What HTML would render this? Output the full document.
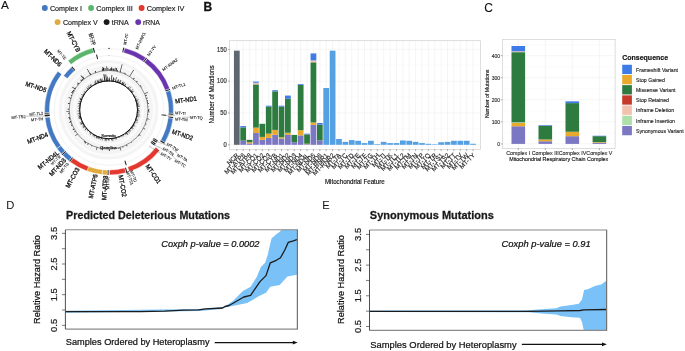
<!DOCTYPE html>
<html><head><meta charset="utf-8"><style>
html,body{margin:0;padding:0;background:#fff;width:685px;height:351px;overflow:hidden}
svg{display:block;will-change:transform}
text{font-family:"Liberation Sans",sans-serif}
</style></head><body>
<svg width="685" height="351" viewBox="0 0 685 351">
<rect width="685" height="351" fill="#fff"/>
<g>
<circle cx="109.05" cy="110.45" r="62" fill="none" stroke="#e4e4e4" stroke-width="0.5"/>
<circle cx="109.05" cy="110.45" r="54.9" fill="none" stroke="#e4e4e4" stroke-width="0.5"/>
<circle cx="108.6" cy="109.8" r="34.2" fill="none" stroke="#f3f3f3" stroke-width="10.6"/>
<circle cx="108.6" cy="109.8" r="44.6" fill="none" stroke="#f4f4f4" stroke-width="10.4"/>
<circle cx="108.6" cy="109.8" r="34.4" fill="none" stroke="#fbfbfb" stroke-width="2.6"/>
<circle cx="108.6" cy="109.8" r="45.6" fill="none" stroke="#fbfbfb" stroke-width="2.4"/>
<path d="M108.68 80.32A29.48 29.48 0 0 1 108.99 80.32L108.97 81.4A28.4 28.4 0 0 0 108.67 81.4ZM109.16 79.04A30.77 30.77 0 0 1 109.49 79.05L109.42 81.41A28.4 28.4 0 0 0 109.12 81.4ZM109.63 79.54A30.27 30.27 0 0 1 109.95 79.56L109.86 81.43A28.4 28.4 0 0 0 109.57 81.42ZM111.49 80.1A29.84 29.84 0 0 1 111.8 80.14L111.64 81.56A28.4 28.4 0 0 0 111.35 81.53ZM112.52 79.39A30.66 30.66 0 0 1 112.84 79.43L112.53 81.67A28.4 28.4 0 0 0 112.23 81.63ZM112.97 79.67A30.45 30.45 0 0 1 113.28 79.72L112.97 81.74A28.4 28.4 0 0 0 112.68 81.69ZM113.74 77.87A32.35 32.35 0 0 1 114.08 77.92L113.41 81.81A28.4 28.4 0 0 0 113.12 81.76ZM114.14 78.54A31.74 31.74 0 0 1 114.47 78.6L113.85 81.89A28.4 28.4 0 0 0 113.56 81.84ZM114.64 81A29.43 29.43 0 0 1 114.94 81.07L114.72 82.07A28.4 28.4 0 0 0 114.43 82.01ZM115.85 79.95A30.71 30.71 0 0 1 116.16 80.03L115.59 82.27A28.4 28.4 0 0 0 115.3 82.2ZM116.22 80.45A30.32 30.32 0 0 1 116.52 80.53L116.02 82.39A28.4 28.4 0 0 0 115.73 82.31ZM117.3 80.15A30.9 30.9 0 0 1 117.61 80.24L116.88 82.63A28.4 28.4 0 0 0 116.59 82.55ZM117.33 81.68A29.45 29.45 0 0 1 117.63 81.77L117.31 82.77A28.4 28.4 0 0 0 117.02 82.68ZM117.93 81.35A29.94 29.94 0 0 1 118.23 81.44L117.73 82.91A28.4 28.4 0 0 0 117.45 82.81ZM118.86 80.09A31.43 31.43 0 0 1 119.17 80.2L118.15 83.05A28.4 28.4 0 0 0 117.87 82.96ZM118.57 82.33A29.22 29.22 0 0 1 118.86 82.44L118.57 83.21A28.4 28.4 0 0 0 118.29 83.1ZM119.36 81.55A30.23 30.23 0 0 1 119.65 81.66L118.99 83.37A28.4 28.4 0 0 0 118.71 83.26ZM120.13 80.89A31.12 31.12 0 0 1 120.44 81.01L119.4 83.53A28.4 28.4 0 0 0 119.12 83.42ZM121.06 79.93A32.37 32.37 0 0 1 121.38 80.06L119.81 83.71A28.4 28.4 0 0 0 119.54 83.59ZM120.51 82.47A29.81 29.81 0 0 1 120.8 82.6L120.22 83.89A28.4 28.4 0 0 0 119.95 83.77ZM122.44 81.74A31.29 31.29 0 0 1 122.73 81.88L121.43 84.46A28.4 28.4 0 0 0 121.16 84.33ZM123.12 81.48A31.83 31.83 0 0 1 123.42 81.63L121.82 84.67A28.4 28.4 0 0 0 121.56 84.53ZM123.16 82.47A30.97 30.97 0 0 1 123.45 82.62L122.22 84.88A28.4 28.4 0 0 0 121.95 84.74ZM123.34 83.15A30.46 30.46 0 0 1 123.62 83.3L122.61 85.09A28.4 28.4 0 0 0 122.35 84.95ZM124.35 82.35A31.65 31.65 0 0 1 124.64 82.51L122.99 85.32A28.4 28.4 0 0 0 122.74 85.17ZM123.95 84A30.03 30.03 0 0 1 124.22 84.16L123.38 85.55A28.4 28.4 0 0 0 123.12 85.39ZM125.14 83.88A30.75 30.75 0 0 1 125.42 84.05L124.13 86.02A28.4 28.4 0 0 0 123.88 85.86ZM126 83.46A31.56 31.56 0 0 1 126.27 83.65L124.5 86.27A28.4 28.4 0 0 0 124.25 86.1ZM125.35 85.28A29.69 29.69 0 0 1 125.61 85.46L124.87 86.52A28.4 28.4 0 0 0 124.62 86.35ZM127.24 86.66A29.71 29.71 0 0 1 127.48 86.86L126.65 87.87A28.4 28.4 0 0 0 126.41 87.68ZM128.36 86.79A30.33 30.33 0 0 1 128.6 87L127.33 88.45A28.4 28.4 0 0 0 127.1 88.25ZM129.53 86.19A31.55 31.55 0 0 1 129.77 86.41L127.66 88.74A28.4 28.4 0 0 0 127.44 88.55ZM128.4 88.16A29.33 29.33 0 0 1 128.62 88.37L127.99 89.05A28.4 28.4 0 0 0 127.77 88.84ZM128.92 88.28A29.6 29.6 0 0 1 129.14 88.49L128.31 89.35A28.4 28.4 0 0 0 128.1 89.15ZM131.1 86.7A32.25 32.25 0 0 1 131.34 86.94L128.63 89.67A28.4 28.4 0 0 0 128.42 89.46ZM129.62 89.54A29.19 29.19 0 0 1 129.83 89.76L129.25 90.3A28.4 28.4 0 0 0 129.05 90.09ZM130.89 88.98A30.5 30.5 0 0 1 131.1 89.22L129.56 90.63A28.4 28.4 0 0 0 129.35 90.41ZM130.88 90.26A29.63 29.63 0 0 1 131.08 90.49L130.15 91.3A28.4 28.4 0 0 0 129.95 91.07ZM133.16 88.94A32.22 32.22 0 0 1 133.38 89.19L130.44 91.64A28.4 28.4 0 0 0 130.24 91.41ZM131.65 90.84A29.85 29.85 0 0 1 131.84 91.08L130.72 91.99A28.4 28.4 0 0 0 130.53 91.75ZM132.36 90.87A30.38 30.38 0 0 1 132.55 91.12L130.99 92.33A28.4 28.4 0 0 0 130.81 92.1ZM133.3 90.74A31.2 31.2 0 0 1 133.5 91L131.27 92.69A28.4 28.4 0 0 0 131.09 92.45ZM133.52 91.19A31.1 31.1 0 0 1 133.72 91.45L131.53 93.05A28.4 28.4 0 0 0 131.36 92.81ZM132.5 92.53A29.48 29.48 0 0 1 132.68 92.78L131.79 93.41A28.4 28.4 0 0 0 131.62 93.17ZM133.41 94.14A29.34 29.34 0 0 1 133.58 94.4L132.78 94.9A28.4 28.4 0 0 0 132.62 94.65ZM135.07 95.34A30.17 30.17 0 0 1 135.22 95.62L133.66 96.45A28.4 28.4 0 0 0 133.52 96.18ZM134.37 96.24A29.12 29.12 0 0 1 134.51 96.51L133.87 96.84A28.4 28.4 0 0 0 133.73 96.58ZM134.83 96.52A29.41 29.41 0 0 1 134.97 96.79L134.07 97.24A28.4 28.4 0 0 0 133.94 96.97ZM136.48 96.23A31.01 31.01 0 0 1 136.62 96.52L134.27 97.64A28.4 28.4 0 0 0 134.14 97.37ZM135.5 97.23A29.7 29.7 0 0 1 135.63 97.51L134.45 98.05A28.4 28.4 0 0 0 134.33 97.78ZM135.56 98.22A29.35 29.35 0 0 1 135.68 98.5L134.81 98.86A28.4 28.4 0 0 0 134.69 98.59ZM137.21 98.04A30.93 30.93 0 0 1 137.33 98.34L134.98 99.28A28.4 28.4 0 0 0 134.87 99ZM136.59 99.31A29.89 29.89 0 0 1 136.69 99.6L135.3 100.11A28.4 28.4 0 0 0 135.19 99.83ZM138.35 99.18A31.59 31.59 0 0 1 138.46 99.49L135.44 100.53A28.4 28.4 0 0 0 135.35 100.25ZM138.44 99.67A31.51 31.51 0 0 1 138.55 99.98L135.59 100.95A28.4 28.4 0 0 0 135.49 100.67ZM137.58 100.47A30.45 30.45 0 0 1 137.68 100.77L135.72 101.38A28.4 28.4 0 0 0 135.63 101.09ZM136.73 101.23A29.41 29.41 0 0 1 136.82 101.52L135.85 101.81A28.4 28.4 0 0 0 135.77 101.52ZM138.12 101.31A30.72 30.72 0 0 1 138.21 101.62L135.97 102.23A28.4 28.4 0 0 0 135.89 101.95ZM138.28 101.77A30.74 30.74 0 0 1 138.36 102.08L136.09 102.67A28.4 28.4 0 0 0 136.01 102.38ZM139.29 102.52A31.54 31.54 0 0 1 139.36 102.84L136.3 103.53A28.4 28.4 0 0 0 136.23 103.24ZM138.72 103.15A30.84 30.84 0 0 1 138.79 103.47L136.39 103.97A28.4 28.4 0 0 0 136.33 103.68ZM138.58 103.67A30.6 30.6 0 0 1 138.64 103.99L136.48 104.41A28.4 28.4 0 0 0 136.42 104.11ZM137.94 104.28A29.85 29.85 0 0 1 138 104.59L136.56 104.84A28.4 28.4 0 0 0 136.51 104.55ZM139.41 104.51A31.26 31.26 0 0 1 139.47 104.83L136.64 105.28A28.4 28.4 0 0 0 136.59 104.99ZM137.39 105.32A29.14 29.14 0 0 1 137.44 105.62L136.71 105.72A28.4 28.4 0 0 0 136.66 105.43ZM139.72 105.45A31.43 31.43 0 0 1 139.77 105.78L136.77 106.17A28.4 28.4 0 0 0 136.73 105.87ZM139.71 105.95A31.35 31.35 0 0 1 139.75 106.28L136.82 106.61A28.4 28.4 0 0 0 136.79 106.31ZM139.84 106.43A31.42 31.42 0 0 1 139.87 106.76L136.87 107.05A28.4 28.4 0 0 0 136.84 106.76ZM138.74 107.98A30.2 30.2 0 0 1 138.76 108.3L136.96 108.39A28.4 28.4 0 0 0 136.95 108.09ZM139.54 108.42A30.97 30.97 0 0 1 139.56 108.75L136.98 108.83A28.4 28.4 0 0 0 136.97 108.54ZM138.88 108.93A30.3 30.3 0 0 1 138.89 109.24L137 109.28A28.4 28.4 0 0 0 136.99 108.98ZM139.84 109.88A31.24 31.24 0 0 1 139.84 110.21L137 110.17A28.4 28.4 0 0 0 137 109.87ZM139.23 110.36A30.64 30.64 0 0 1 139.23 110.68L136.99 110.62A28.4 28.4 0 0 0 137 110.32ZM137.88 111.26A29.32 29.32 0 0 1 137.87 111.56L136.95 111.51A28.4 28.4 0 0 0 136.96 111.21ZM140.02 111.86A31.49 31.49 0 0 1 139.99 112.19L136.92 111.95A28.4 28.4 0 0 0 136.94 111.66ZM138.01 112.19A29.51 29.51 0 0 1 137.98 112.5L136.88 112.4A28.4 28.4 0 0 0 136.91 112.1ZM139 112.75A30.55 30.55 0 0 1 138.97 113.07L136.84 112.84A28.4 28.4 0 0 0 136.87 112.55ZM139.56 113.79A31.22 31.22 0 0 1 139.52 114.12L136.73 113.73A28.4 28.4 0 0 0 136.77 113.43ZM139.72 114.81A31.52 31.52 0 0 1 139.67 115.14L136.59 114.61A28.4 28.4 0 0 0 136.64 114.32ZM137.52 114.92A29.37 29.37 0 0 1 137.46 115.23L136.51 115.05A28.4 28.4 0 0 0 136.56 114.76ZM140.18 115.91A32.16 32.16 0 0 1 140.11 116.24L136.42 115.49A28.4 28.4 0 0 0 136.48 115.19ZM138.24 116.02A30.29 30.29 0 0 1 138.17 116.33L136.33 115.92A28.4 28.4 0 0 0 136.39 115.63ZM139.16 116.72A31.33 31.33 0 0 1 139.09 117.04L136.23 116.36A28.4 28.4 0 0 0 136.3 116.07ZM138.81 117.14A31.09 31.09 0 0 1 138.74 117.45L136.13 116.79A28.4 28.4 0 0 0 136.2 116.5ZM136.76 117.58A29.22 29.22 0 0 1 136.68 117.88L135.89 117.65A28.4 28.4 0 0 0 135.97 117.37ZM137.46 118.27A30.07 30.07 0 0 1 137.37 118.57L135.77 118.08A28.4 28.4 0 0 0 135.85 117.79ZM136.83 118.57A29.56 29.56 0 0 1 136.74 118.86L135.63 118.51A28.4 28.4 0 0 0 135.72 118.22ZM138.29 119.53A31.24 31.24 0 0 1 138.18 119.84L135.49 118.93A28.4 28.4 0 0 0 135.59 118.65ZM136.65 119.48A29.67 29.67 0 0 1 136.54 119.78L135.35 119.35A28.4 28.4 0 0 0 135.44 119.07ZM137.95 120.45A31.22 31.22 0 0 1 137.83 120.76L135.19 119.77A28.4 28.4 0 0 0 135.3 119.49ZM137.82 120.93A31.27 31.27 0 0 1 137.71 121.24L135.03 120.19A28.4 28.4 0 0 0 135.14 119.91ZM136.37 120.88A29.9 29.9 0 0 1 136.25 121.17L134.87 120.6A28.4 28.4 0 0 0 134.98 120.32ZM137.88 122.56A31.94 31.94 0 0 1 137.74 122.87L134.51 121.42A28.4 28.4 0 0 0 134.63 121.15ZM136.21 122.88A30.55 30.55 0 0 1 136.07 123.17L134.14 122.23A28.4 28.4 0 0 0 134.27 121.96ZM134.88 122.76A29.3 29.3 0 0 1 134.74 123.04L133.94 122.63A28.4 28.4 0 0 0 134.07 122.36ZM135.27 123.48A29.97 29.97 0 0 1 135.13 123.76L133.73 123.02A28.4 28.4 0 0 0 133.87 122.76ZM134.08 123.89A29.11 29.11 0 0 1 133.93 124.16L133.31 123.81A28.4 28.4 0 0 0 133.45 123.55ZM135.24 125.09A30.72 30.72 0 0 1 135.08 125.37L133.08 124.19A28.4 28.4 0 0 0 133.23 123.94ZM134.38 125.14A29.99 29.99 0 0 1 134.21 125.4L132.85 124.58A28.4 28.4 0 0 0 133.01 124.32ZM135.2 126.2A31.25 31.25 0 0 1 135.03 126.48L132.62 124.95A28.4 28.4 0 0 0 132.78 124.7ZM134.02 126.03A30.16 30.16 0 0 1 133.85 126.29L132.38 125.33A28.4 28.4 0 0 0 132.54 125.08ZM133.49 126.25A29.84 29.84 0 0 1 133.32 126.51L132.13 125.7A28.4 28.4 0 0 0 132.3 125.45ZM133.08 126.53A29.66 29.66 0 0 1 132.91 126.79L131.88 126.07A28.4 28.4 0 0 0 132.05 125.82ZM132.88 126.96A29.73 29.73 0 0 1 132.7 127.21L131.62 126.43A28.4 28.4 0 0 0 131.79 126.19ZM133.19 127.77A30.46 30.46 0 0 1 133 128.02L131.36 126.79A28.4 28.4 0 0 0 131.53 126.55ZM133.64 128.7A31.37 31.37 0 0 1 133.44 128.96L131.09 127.15A28.4 28.4 0 0 0 131.27 126.91ZM132.25 128.24A29.99 29.99 0 0 1 132.05 128.49L130.81 127.5A28.4 28.4 0 0 0 130.99 127.27ZM132.72 129.23A30.97 30.97 0 0 1 132.52 129.48L130.53 127.85A28.4 28.4 0 0 0 130.72 127.61ZM131.3 130.56A30.76 30.76 0 0 1 131.08 130.8L129.35 129.19A28.4 28.4 0 0 0 129.56 128.97ZM130.32 130.96A30.32 30.32 0 0 1 130.1 131.18L128.73 129.83A28.4 28.4 0 0 0 128.94 129.62ZM130.56 131.87A31.14 31.14 0 0 1 130.33 132.1L128.42 130.14A28.4 28.4 0 0 0 128.63 129.93ZM128.74 131.36A29.5 29.5 0 0 1 128.51 131.57L127.77 130.76A28.4 28.4 0 0 0 127.99 130.55ZM129.78 133.2A31.56 31.56 0 0 1 129.53 133.42L127.44 131.05A28.4 28.4 0 0 0 127.66 130.86ZM127.92 132.55A29.85 29.85 0 0 1 127.69 132.75L126.76 131.64A28.4 28.4 0 0 0 126.99 131.44ZM128.31 134.53A31.62 31.62 0 0 1 128.05 134.73L126.07 132.19A28.4 28.4 0 0 0 126.3 132.01ZM127.74 134.61A31.33 31.33 0 0 1 127.48 134.81L125.71 132.47A28.4 28.4 0 0 0 125.95 132.29ZM126.67 134A30.2 30.2 0 0 1 126.41 134.18L125.35 132.73A28.4 28.4 0 0 0 125.59 132.56ZM126.23 135.03A30.78 30.78 0 0 1 125.97 135.21L124.62 133.25A28.4 28.4 0 0 0 124.87 133.08ZM124.16 134.47A29.16 29.16 0 0 1 123.9 134.63L123.5 133.98A28.4 28.4 0 0 0 123.75 133.82ZM123.98 135.05A29.57 29.57 0 0 1 123.72 135.21L123.12 134.21A28.4 28.4 0 0 0 123.38 134.05ZM124.26 136.43A30.89 30.89 0 0 1 123.98 136.59L122.74 134.43A28.4 28.4 0 0 0 122.99 134.28ZM122.99 136.15A30.02 30.02 0 0 1 122.72 136.3L121.95 134.86A28.4 28.4 0 0 0 122.22 134.72ZM122.34 136.94A30.42 30.42 0 0 1 122.05 137.08L121.16 135.27A28.4 28.4 0 0 0 121.43 135.14ZM121.4 137.19A30.23 30.23 0 0 1 121.11 137.32L120.35 135.65A28.4 28.4 0 0 0 120.62 135.53ZM119.88 137.23A29.66 29.66 0 0 1 119.59 137.35L119.12 136.18A28.4 28.4 0 0 0 119.4 136.07ZM119.56 137.69A29.97 29.97 0 0 1 119.27 137.8L118.71 136.34A28.4 28.4 0 0 0 118.99 136.23ZM118.84 137.1A29.16 29.16 0 0 1 118.55 137.21L118.29 136.5A28.4 28.4 0 0 0 118.57 136.39ZM118.65 137.94A29.88 29.88 0 0 1 118.35 138.05L117.87 136.64A28.4 28.4 0 0 0 118.15 136.55ZM117.13 137.8A29.27 29.27 0 0 1 116.84 137.88L116.59 137.05A28.4 28.4 0 0 0 116.88 136.97ZM117.08 139.28A30.67 30.67 0 0 1 116.77 139.36L116.17 137.17A28.4 28.4 0 0 0 116.45 137.09ZM116.39 138.56A29.8 29.8 0 0 1 116.09 138.64L115.73 137.29A28.4 28.4 0 0 0 116.02 137.21ZM116.29 140.06A31.23 31.23 0 0 1 115.97 140.14L115.3 137.4A28.4 28.4 0 0 0 115.59 137.33ZM115.06 139.05A29.96 29.96 0 0 1 114.75 139.12L114.43 137.59A28.4 28.4 0 0 0 114.72 137.53ZM114.55 138.92A29.72 29.72 0 0 1 114.25 138.98L113.99 137.68A28.4 28.4 0 0 0 114.29 137.62ZM113.61 138.97A29.6 29.6 0 0 1 113.31 139.02L113.12 137.84A28.4 28.4 0 0 0 113.41 137.79ZM113.36 140.38A30.95 30.95 0 0 1 113.04 140.43L112.68 137.91A28.4 28.4 0 0 0 112.97 137.86ZM112.72 139.33A29.82 29.82 0 0 1 112.41 139.37L112.23 137.97A28.4 28.4 0 0 0 112.53 137.93ZM112.47 141.09A31.53 31.53 0 0 1 112.14 141.13L111.79 138.02A28.4 28.4 0 0 0 112.09 137.99ZM111.91 140.56A30.94 30.94 0 0 1 111.59 140.6L111.35 138.07A28.4 28.4 0 0 0 111.64 138.04ZM111.37 139.91A30.24 30.24 0 0 1 111.05 139.94L110.9 138.11A28.4 28.4 0 0 0 111.2 138.08ZM110.83 139.08A29.36 29.36 0 0 1 110.52 139.1L110.46 138.14A28.4 28.4 0 0 0 110.75 138.12ZM109.96 140.38A30.61 30.61 0 0 1 109.64 140.39L109.57 138.18A28.4 28.4 0 0 0 109.86 138.17ZM109.01 140.77A30.98 30.98 0 0 1 108.68 140.78L108.67 138.2A28.4 28.4 0 0 0 108.97 138.2ZM108.52 140.16A30.36 30.36 0 0 1 108.2 140.15L108.23 138.2A28.4 28.4 0 0 0 108.53 138.2ZM107.59 139.46A29.68 29.68 0 0 1 107.28 139.45L107.34 138.17A28.4 28.4 0 0 0 107.63 138.18ZM107.13 139.4A29.64 29.64 0 0 1 106.82 139.38L106.89 138.15A28.4 28.4 0 0 0 107.19 138.16ZM106.54 141.18A31.45 31.45 0 0 1 106.21 141.16L106.45 138.12A28.4 28.4 0 0 0 106.74 138.14ZM106.17 139.65A29.95 29.95 0 0 1 105.86 139.62L106 138.08A28.4 28.4 0 0 0 106.3 138.11ZM105.56 141.11A31.46 31.46 0 0 1 105.23 141.08L105.56 138.04A28.4 28.4 0 0 0 105.85 138.07ZM105.07 141A31.4 31.4 0 0 1 104.75 140.96L105.11 137.99A28.4 28.4 0 0 0 105.41 138.02ZM104.8 139.28A29.72 29.72 0 0 1 104.49 139.24L104.67 137.93A28.4 28.4 0 0 0 104.97 137.97ZM102.66 140.53A31.3 31.3 0 0 1 102.33 140.46L102.91 137.62A28.4 28.4 0 0 0 103.21 137.68ZM102 138.95A29.89 29.89 0 0 1 101.7 138.88L102.04 137.43A28.4 28.4 0 0 0 102.33 137.5ZM101.45 139.26A30.31 30.31 0 0 1 101.14 139.18L101.61 137.33A28.4 28.4 0 0 0 101.9 137.4ZM100.78 139.92A31.12 31.12 0 0 1 100.47 139.84L101.18 137.21A28.4 28.4 0 0 0 101.47 137.29ZM100.79 138.05A29.3 29.3 0 0 1 100.5 137.96L100.75 137.09A28.4 28.4 0 0 0 101.03 137.17ZM99.63 138.7A30.26 30.26 0 0 1 99.32 138.61L99.89 136.83A28.4 28.4 0 0 0 100.18 136.92ZM98.96 139.21A30.95 30.95 0 0 1 98.65 139.11L99.47 136.69A28.4 28.4 0 0 0 99.75 136.79ZM98.74 138.36A30.21 30.21 0 0 1 98.44 138.25L99.05 136.55A28.4 28.4 0 0 0 99.33 136.64ZM98.07 138.82A30.87 30.87 0 0 1 97.76 138.7L98.63 136.39A28.4 28.4 0 0 0 98.91 136.5ZM97.97 137.72A29.87 29.87 0 0 1 97.68 137.6L98.21 136.23A28.4 28.4 0 0 0 98.49 136.34ZM97.13 138.55A30.95 30.95 0 0 1 96.83 138.43L97.8 136.07A28.4 28.4 0 0 0 98.08 136.18ZM96.69 138.34A30.92 30.92 0 0 1 96.39 138.21L97.39 135.89A28.4 28.4 0 0 0 97.66 136.01ZM96.14 138.38A31.17 31.17 0 0 1 95.85 138.25L96.98 135.71A28.4 28.4 0 0 0 97.25 135.83ZM96 137.51A30.44 30.44 0 0 1 95.71 137.37L96.58 135.53A28.4 28.4 0 0 0 96.85 135.65ZM95.6 136.16A29.4 29.4 0 0 1 95.32 136.03L95.77 135.14A28.4 28.4 0 0 0 96.04 135.27ZM94.47 137.35A30.96 30.96 0 0 1 94.19 137.2L95.38 134.93A28.4 28.4 0 0 0 95.64 135.07ZM94.39 136.46A30.21 30.21 0 0 1 94.12 136.31L94.98 134.72A28.4 28.4 0 0 0 95.25 134.86ZM93.89 136.39A30.39 30.39 0 0 1 93.61 136.24L94.59 134.51A28.4 28.4 0 0 0 94.85 134.65ZM92.94 136.13A30.63 30.63 0 0 1 92.66 135.96L93.82 134.05A28.4 28.4 0 0 0 94.08 134.21ZM92.91 135.26A29.91 29.91 0 0 1 92.64 135.09L93.45 133.82A28.4 28.4 0 0 0 93.7 133.98ZM92.55 134.1A29.12 29.12 0 0 1 92.29 133.93L92.7 133.33A28.4 28.4 0 0 0 92.95 133.5ZM92.15 133.87A29.15 29.15 0 0 1 91.9 133.7L92.33 133.08A28.4 28.4 0 0 0 92.58 133.25ZM90.02 135.24A31.5 31.5 0 0 1 89.75 135.04L91.61 132.56A28.4 28.4 0 0 0 91.85 132.73ZM90.85 133.31A29.46 29.46 0 0 1 90.61 133.12L91.25 132.29A28.4 28.4 0 0 0 91.49 132.47ZM89.9 133.77A30.4 30.4 0 0 1 89.65 133.58L90.9 132.01A28.4 28.4 0 0 0 91.13 132.19ZM89.67 133.3A30.17 30.17 0 0 1 89.43 133.1L90.55 131.73A28.4 28.4 0 0 0 90.79 131.92ZM89.63 131.9A29.13 29.13 0 0 1 89.4 131.7L89.87 131.15A28.4 28.4 0 0 0 90.1 131.35ZM89.2 131.69A29.25 29.25 0 0 1 88.97 131.48L89.54 130.86A28.4 28.4 0 0 0 89.76 131.05ZM88.58 131A29.16 29.16 0 0 1 88.36 130.79L88.89 130.25A28.4 28.4 0 0 0 89.1 130.45ZM87.36 131.6A30.43 30.43 0 0 1 87.14 131.38L88.57 129.93A28.4 28.4 0 0 0 88.78 130.14ZM87.89 130.4A29.21 29.21 0 0 1 87.67 130.19L88.26 129.62A28.4 28.4 0 0 0 88.47 129.83ZM87.22 130.41A29.69 29.69 0 0 1 87.01 130.18L87.95 129.3A28.4 28.4 0 0 0 88.15 129.51ZM84.92 130.57A31.5 31.5 0 0 1 84.7 130.32L87.05 128.3A28.4 28.4 0 0 0 87.25 128.53ZM85.05 129.8A30.9 30.9 0 0 1 84.85 129.56L86.76 127.96A28.4 28.4 0 0 0 86.96 128.19ZM85.71 128.64A29.65 29.65 0 0 1 85.51 128.4L86.48 127.61A28.4 28.4 0 0 0 86.67 127.85ZM83.14 128.2A31.41 31.41 0 0 1 82.95 127.93L85.41 126.19A28.4 28.4 0 0 0 85.58 126.43ZM83.27 127.5A30.9 30.9 0 0 1 83.09 127.23L85.15 125.82A28.4 28.4 0 0 0 85.32 126.07ZM82.79 127.24A31.15 31.15 0 0 1 82.61 126.97L84.9 125.45A28.4 28.4 0 0 0 85.07 125.7ZM82.46 126.29A30.9 30.9 0 0 1 82.29 126.02L84.42 124.7A28.4 28.4 0 0 0 84.58 124.95ZM83.17 125.29A29.77 29.77 0 0 1 83.01 125.02L84.19 124.32A28.4 28.4 0 0 0 84.35 124.58ZM83.39 124.62A29.24 29.24 0 0 1 83.24 124.35L83.97 123.94A28.4 28.4 0 0 0 84.12 124.19ZM83.07 124.28A29.35 29.35 0 0 1 82.92 124.01L83.75 123.55A28.4 28.4 0 0 0 83.89 123.81ZM80.63 125.08A31.88 31.88 0 0 1 80.47 124.79L83.54 123.15A28.4 28.4 0 0 0 83.68 123.42ZM81.19 124.22A30.97 30.97 0 0 1 81.04 123.93L83.33 122.76A28.4 28.4 0 0 0 83.47 123.02ZM80.67 123.94A31.31 31.31 0 0 1 80.52 123.65L83.13 122.36A28.4 28.4 0 0 0 83.26 122.63ZM80.54 123.46A31.21 31.21 0 0 1 80.4 123.16L82.93 121.96A28.4 28.4 0 0 0 83.06 122.23ZM81.94 122.26A29.43 29.43 0 0 1 81.81 121.98L82.75 121.55A28.4 28.4 0 0 0 82.87 121.82ZM79.77 122.73A31.6 31.6 0 0 1 79.64 122.42L82.57 121.15A28.4 28.4 0 0 0 82.69 121.42ZM81.59 121.4A29.4 29.4 0 0 1 81.47 121.12L82.39 120.74A28.4 28.4 0 0 0 82.51 121.01ZM81.62 120.89A29.18 29.18 0 0 1 81.5 120.61L82.22 120.32A28.4 28.4 0 0 0 82.33 120.6ZM81.26 120.05A29.2 29.2 0 0 1 81.15 119.76L81.9 119.49A28.4 28.4 0 0 0 82.01 119.77ZM81.18 119.59A29.11 29.11 0 0 1 81.08 119.3L81.76 119.07A28.4 28.4 0 0 0 81.85 119.35ZM80.35 119.39A29.83 29.83 0 0 1 80.25 119.09L81.61 118.65A28.4 28.4 0 0 0 81.71 118.93ZM80.59 118.82A29.43 29.43 0 0 1 80.49 118.53L81.48 118.22A28.4 28.4 0 0 0 81.57 118.51ZM78.81 118.88A31.14 31.14 0 0 1 78.72 118.57L81.35 117.79A28.4 28.4 0 0 0 81.43 118.08ZM79.56 118.16A30.22 30.22 0 0 1 79.47 117.85L81.23 117.37A28.4 28.4 0 0 0 81.31 117.65ZM78.33 118A31.36 31.36 0 0 1 78.24 117.68L81.11 116.93A28.4 28.4 0 0 0 81.19 117.22ZM79.01 117.31A30.53 30.53 0 0 1 78.93 117L81 116.5A28.4 28.4 0 0 0 81.07 116.79ZM78.85 116.86A30.58 30.58 0 0 1 78.78 116.55L80.9 116.07A28.4 28.4 0 0 0 80.97 116.36ZM78.67 116.41A30.65 30.65 0 0 1 78.6 116.09L80.81 115.63A28.4 28.4 0 0 0 80.87 115.92ZM79.99 115.65A29.2 29.2 0 0 1 79.93 115.35L80.72 115.19A28.4 28.4 0 0 0 80.78 115.49ZM77.83 115.59A31.31 31.31 0 0 1 77.77 115.26L80.64 114.76A28.4 28.4 0 0 0 80.69 115.05ZM79.31 114.83A29.71 29.71 0 0 1 79.26 114.53L80.56 114.32A28.4 28.4 0 0 0 80.61 114.61ZM79.72 114.3A29.23 29.23 0 0 1 79.67 113.99L80.49 113.88A28.4 28.4 0 0 0 80.54 114.17ZM77.4 114.16A31.5 31.5 0 0 1 77.35 113.83L80.43 113.43A28.4 28.4 0 0 0 80.47 113.73ZM78.52 113.52A30.31 30.31 0 0 1 78.48 113.2L80.38 112.99A28.4 28.4 0 0 0 80.41 113.29ZM78.79 113.01A29.98 29.98 0 0 1 78.76 112.7L80.33 112.55A28.4 28.4 0 0 0 80.36 112.84ZM78.86 111.59A29.79 29.79 0 0 1 78.85 111.28L80.24 111.21A28.4 28.4 0 0 0 80.25 111.51ZM77.4 111.19A31.23 31.23 0 0 1 77.39 110.86L80.22 110.77A28.4 28.4 0 0 0 80.23 111.06ZM78.96 110.65A29.65 29.65 0 0 1 78.96 110.34L80.2 110.32A28.4 28.4 0 0 0 80.21 110.62ZM79.25 109.72A29.35 29.35 0 0 1 79.26 109.42L80.2 109.43A28.4 28.4 0 0 0 80.2 109.73ZM78.6 108.78A30.02 30.02 0 0 1 78.61 108.46L80.23 108.54A28.4 28.4 0 0 0 80.22 108.83ZM78 108.28A30.64 30.64 0 0 1 78.02 107.96L80.25 108.09A28.4 28.4 0 0 0 80.24 108.39ZM79.12 107.87A29.54 29.54 0 0 1 79.14 107.56L80.28 107.65A28.4 28.4 0 0 0 80.26 107.94ZM79.26 107.41A29.44 29.44 0 0 1 79.28 107.11L80.32 107.2A28.4 28.4 0 0 0 80.29 107.5ZM77.33 106.26A31.47 31.47 0 0 1 77.37 105.94L80.41 106.31A28.4 28.4 0 0 0 80.38 106.61ZM79.04 105.99A29.81 29.81 0 0 1 79.08 105.68L80.47 105.87A28.4 28.4 0 0 0 80.43 106.17ZM77.86 105.34A31.06 31.06 0 0 1 77.91 105.02L80.54 105.43A28.4 28.4 0 0 0 80.49 105.72ZM79.8 105.16A29.17 29.17 0 0 1 79.86 104.86L80.61 104.99A28.4 28.4 0 0 0 80.56 105.28ZM79.55 104.65A29.5 29.5 0 0 1 79.6 104.35L80.69 104.55A28.4 28.4 0 0 0 80.64 104.84ZM77.76 103.83A31.41 31.41 0 0 1 77.82 103.51L80.78 104.11A28.4 28.4 0 0 0 80.72 104.41ZM78.32 103.45A30.94 30.94 0 0 1 78.39 103.13L80.87 103.68A28.4 28.4 0 0 0 80.81 103.97ZM78.86 103.07A30.49 30.49 0 0 1 78.93 102.76L80.97 103.24A28.4 28.4 0 0 0 80.9 103.53ZM79.72 102.79A29.72 29.72 0 0 1 79.8 102.48L81.07 102.81A28.4 28.4 0 0 0 81 103.1ZM78.42 101.46A31.31 31.31 0 0 1 78.51 101.14L81.31 101.95A28.4 28.4 0 0 0 81.23 102.23ZM78.82 101.06A31.03 31.03 0 0 1 78.92 100.75L81.43 101.52A28.4 28.4 0 0 0 81.35 101.81ZM80.8 101.17A29.11 29.11 0 0 1 80.89 100.88L81.57 101.09A28.4 28.4 0 0 0 81.48 101.38ZM79.87 99.88A30.4 30.4 0 0 1 79.97 99.58L81.85 100.25A28.4 28.4 0 0 0 81.76 100.53ZM79.9 99.38A30.54 30.54 0 0 1 80.01 99.08L82.01 99.83A28.4 28.4 0 0 0 81.9 100.11ZM79.92 98.88A30.69 30.69 0 0 1 80.03 98.58L82.17 99.41A28.4 28.4 0 0 0 82.06 99.69ZM78.96 97.97A31.92 31.92 0 0 1 79.08 97.66L82.33 99A28.4 28.4 0 0 0 82.22 99.28ZM80.85 97.71A30.27 30.27 0 0 1 80.98 97.42L82.69 98.18A28.4 28.4 0 0 0 82.57 98.45ZM81.27 96.85A30.24 30.24 0 0 1 81.41 96.57L83.06 97.37A28.4 28.4 0 0 0 82.93 97.64ZM82.02 96.17A29.87 29.87 0 0 1 82.16 95.89L83.47 96.58A28.4 28.4 0 0 0 83.33 96.84ZM82.59 95.94A29.47 29.47 0 0 1 82.74 95.67L83.68 96.18A28.4 28.4 0 0 0 83.54 96.45ZM81.22 94.65A31.29 31.29 0 0 1 81.38 94.37L83.89 95.79A28.4 28.4 0 0 0 83.75 96.05ZM82.86 95.03A29.68 29.68 0 0 1 83.01 94.76L84.12 95.41A28.4 28.4 0 0 0 83.97 95.66ZM82.59 94.32A30.27 30.27 0 0 1 82.75 94.05L84.35 95.02A28.4 28.4 0 0 0 84.19 95.28ZM83.3 94.2A29.72 29.72 0 0 1 83.46 93.94L84.58 94.65A28.4 28.4 0 0 0 84.42 94.9ZM84.06 94.14A29.11 29.11 0 0 1 84.23 93.88L84.82 94.27A28.4 28.4 0 0 0 84.66 94.52ZM83.17 93A30.48 30.48 0 0 1 83.35 92.74L85.07 93.9A28.4 28.4 0 0 0 84.9 94.15ZM83.8 92.27A30.37 30.37 0 0 1 83.98 92.01L85.58 93.17A28.4 28.4 0 0 0 85.41 93.41ZM85.08 92.61A29.13 29.13 0 0 1 85.26 92.37L85.84 92.81A28.4 28.4 0 0 0 85.67 93.05ZM83.62 90.94A31.3 31.3 0 0 1 83.82 90.68L86.11 92.45A28.4 28.4 0 0 0 85.93 92.69ZM85.58 91.26A29.56 29.56 0 0 1 85.77 91.02L86.67 91.75A28.4 28.4 0 0 0 86.48 91.99ZM85.38 89.87A30.6 30.6 0 0 1 85.59 89.62L87.25 91.07A28.4 28.4 0 0 0 87.05 91.3ZM87 90.05A29.27 29.27 0 0 1 87.21 89.82L87.85 90.41A28.4 28.4 0 0 0 87.64 90.63ZM86.63 88.39A30.68 30.68 0 0 1 86.85 88.17L88.47 89.77A28.4 28.4 0 0 0 88.26 89.98ZM86.45 87.53A31.41 31.41 0 0 1 86.68 87.3L88.78 89.46A28.4 28.4 0 0 0 88.57 89.67ZM88.43 88.2A29.55 29.55 0 0 1 88.65 87.99L89.43 88.84A28.4 28.4 0 0 0 89.21 89.05ZM87.53 86.52A31.39 31.39 0 0 1 87.78 86.31L89.76 88.55A28.4 28.4 0 0 0 89.54 88.74ZM89.16 87.63A29.49 29.49 0 0 1 89.39 87.43L90.1 88.25A28.4 28.4 0 0 0 89.87 88.45ZM88.21 85.8A31.5 31.5 0 0 1 88.46 85.58L90.44 87.96A28.4 28.4 0 0 0 90.21 88.16ZM90.22 86.74A29.49 29.49 0 0 1 90.47 86.55L91.13 87.41A28.4 28.4 0 0 0 90.9 87.59ZM89.58 85.15A31.14 31.14 0 0 1 89.84 84.95L91.49 87.13A28.4 28.4 0 0 0 91.25 87.31ZM89.7 84.49A31.59 31.59 0 0 1 89.97 84.29L91.85 86.87A28.4 28.4 0 0 0 91.61 87.04ZM91.43 86.04A29.31 29.31 0 0 1 91.68 85.86L92.21 86.61A28.4 28.4 0 0 0 91.97 86.78ZM90.64 84.11A31.34 31.34 0 0 1 90.91 83.92L92.58 86.35A28.4 28.4 0 0 0 92.33 86.52ZM92.5 85.15A29.44 29.44 0 0 1 92.76 84.98L93.32 85.86A28.4 28.4 0 0 0 93.07 86.02ZM92.96 85A29.32 29.32 0 0 1 93.22 84.84L93.7 85.62A28.4 28.4 0 0 0 93.45 85.78ZM93.72 84.48A29.37 29.37 0 0 1 93.98 84.33L94.46 85.17A28.4 28.4 0 0 0 94.21 85.32ZM94.64 84.25A29.12 29.12 0 0 1 94.91 84.1L95.25 84.74A28.4 28.4 0 0 0 94.98 84.88ZM93.9 81.87A31.56 31.56 0 0 1 94.2 81.71L95.64 84.53A28.4 28.4 0 0 0 95.38 84.67ZM95.11 83.15A29.87 29.87 0 0 1 95.39 83.01L96.04 84.33A28.4 28.4 0 0 0 95.77 84.46ZM95.46 82.8A30.02 30.02 0 0 1 95.75 82.67L96.44 84.13A28.4 28.4 0 0 0 96.17 84.26ZM95.03 80.76A32.05 32.05 0 0 1 95.33 80.62L96.85 83.95A28.4 28.4 0 0 0 96.58 84.07ZM96.48 82.78A29.62 29.62 0 0 1 96.77 82.65L97.25 83.77A28.4 28.4 0 0 0 96.98 83.89ZM96.62 80.65A31.52 31.52 0 0 1 96.92 80.53L98.08 83.42A28.4 28.4 0 0 0 97.8 83.53ZM97.27 80.96A30.98 30.98 0 0 1 97.57 80.85L98.49 83.26A28.4 28.4 0 0 0 98.21 83.37ZM97.35 79.78A32.06 32.06 0 0 1 97.66 79.67L98.91 83.1A28.4 28.4 0 0 0 98.63 83.21ZM98.11 80.41A31.21 31.21 0 0 1 98.41 80.3L99.33 82.96A28.4 28.4 0 0 0 99.05 83.05ZM99.11 81.84A29.53 29.53 0 0 1 99.4 81.74L99.75 82.81A28.4 28.4 0 0 0 99.47 82.91ZM98.71 79.1A32.25 32.25 0 0 1 99.04 79L100.18 82.68A28.4 28.4 0 0 0 99.89 82.77ZM100.06 81.79A29.28 29.28 0 0 1 100.36 81.71L100.61 82.55A28.4 28.4 0 0 0 100.32 82.63ZM100.46 81.49A29.45 29.45 0 0 1 100.75 81.41L101.03 82.43A28.4 28.4 0 0 0 100.75 82.51ZM100.71 78.75A32.04 32.04 0 0 1 101.04 78.67L101.9 82.2A28.4 28.4 0 0 0 101.61 82.27ZM101.4 79.44A31.2 31.2 0 0 1 101.71 79.37L102.33 82.1A28.4 28.4 0 0 0 102.04 82.17ZM102.13 80.48A30.03 30.03 0 0 1 102.43 80.41L102.77 82.01A28.4 28.4 0 0 0 102.48 82.07ZM102.15 78.22A32.23 32.23 0 0 1 102.48 78.16L103.21 81.92A28.4 28.4 0 0 0 102.91 81.98ZM103.2 81.06A29.24 29.24 0 0 1 103.5 81L103.64 81.84A28.4 28.4 0 0 0 103.35 81.89ZM103.5 80.13A30.1 30.1 0 0 1 103.81 80.08L104.08 81.76A28.4 28.4 0 0 0 103.79 81.81ZM104.29 78.93A31.17 31.17 0 0 1 104.61 78.89L104.97 81.63A28.4 28.4 0 0 0 104.67 81.67ZM104.75 78.71A31.33 31.33 0 0 1 105.08 78.67L105.41 81.58A28.4 28.4 0 0 0 105.11 81.61ZM105.44 80.48A29.49 29.49 0 0 1 105.75 80.45L105.85 81.53A28.4 28.4 0 0 0 105.56 81.56ZM105.89 80.32A29.61 29.61 0 0 1 106.2 80.29L106.3 81.49A28.4 28.4 0 0 0 106 81.52ZM106.72 78.62A31.23 31.23 0 0 1 107.05 78.6L107.19 81.44A28.4 28.4 0 0 0 106.89 81.45ZM107.19 78.21A31.62 31.62 0 0 1 107.52 78.2L107.63 81.42A28.4 28.4 0 0 0 107.34 81.43ZM107.75 80.33A29.48 29.48 0 0 1 108.06 80.32L108.08 81.4A28.4 28.4 0 0 0 107.78 81.41ZM108.18 77.93A31.87 31.87 0 0 1 108.52 77.93L108.53 81.4A28.4 28.4 0 0 0 108.23 81.4ZM103.42 74.28A35.9 35.9 0 0 1 104.41 74.15L105.29 81.59A28.4 28.4 0 0 0 104.5 81.7ZM105.38 74.45A35.5 35.5 0 0 1 106.25 74.38L106.72 81.46A28.4 28.4 0 0 0 106.03 81.52ZM107.14 76.43A33.4 33.4 0 0 1 107.73 76.41L107.86 81.41A28.4 28.4 0 0 0 107.36 81.43ZM109.45 77.41A32.4 32.4 0 0 1 110.01 77.43L109.84 81.43A28.4 28.4 0 0 0 109.34 81.41ZM111.58 75.03A34.9 34.9 0 0 1 112.31 75.1L111.62 81.56A28.4 28.4 0 0 0 111.03 81.5ZM113.21 77.22A32.9 32.9 0 0 1 113.72 77.3L113.02 81.75A28.4 28.4 0 0 0 112.58 81.68ZM116.11 77.15A33.5 33.5 0 0 1 116.73 77.3L115.49 82.25A28.4 28.4 0 0 0 114.96 82.12ZM118.28 79.19A32.1 32.1 0 0 1 118.76 79.35L117.59 82.86A28.4 28.4 0 0 0 117.16 82.72ZM120.24 80.32A31.7 31.7 0 0 1 120.71 80.5L119.45 83.55A28.4 28.4 0 0 0 119.03 83.39ZM99.94 78.58A32.4 32.4 0 0 1 100.49 78.43L101.49 82.3A28.4 28.4 0 0 0 101.01 82.43ZM97.52 80.1A31.7 31.7 0 0 1 97.99 79.93L99.1 83.04A28.4 28.4 0 0 0 98.68 83.19ZM94.81 80.81A32.1 32.1 0 0 1 95.26 80.6L96.8 83.97A28.4 28.4 0 0 0 96.4 84.16ZM124.14 82.4A31.5 31.5 0 0 1 124.56 82.64L122.99 85.32A28.4 28.4 0 0 0 122.61 85.09Z" fill="#111"/>
<circle cx="108.6" cy="109.8" r="28.9" fill="none" stroke="#111" stroke-width="1.0"/>
<path d="M108.88 69.19A40.61 40.61 0 0 1 109.73 69.21L109.7 70.42A39.4 39.4 0 0 0 108.88 70.4ZM110.34 68.19A41.65 41.65 0 0 1 111.21 68.24L111.07 70.48A39.4 39.4 0 0 0 110.25 70.43ZM111.79 68.4A41.52 41.52 0 0 1 112.65 68.48L112.44 70.59A39.4 39.4 0 0 0 111.62 70.52ZM113.22 68.62A41.44 41.44 0 0 1 114.08 68.72L113.81 70.75A39.4 39.4 0 0 0 112.99 70.65ZM114.75 68.17A42.09 42.09 0 0 1 115.62 68.3L115.17 70.95A39.4 39.4 0 0 0 114.36 70.82ZM116.28 67.98A42.52 42.52 0 0 1 117.15 68.15L116.52 71.2A39.4 39.4 0 0 0 115.71 71.05ZM117.34 70.05A40.7 40.7 0 0 1 118.17 70.24L117.86 71.5A39.4 39.4 0 0 0 117.06 71.32ZM120.07 70.82A40.64 40.64 0 0 1 120.89 71.07L120.51 72.24A39.4 39.4 0 0 0 119.72 72ZM123.93 72.61A40.22 40.22 0 0 1 124.7 72.94L124.37 73.7A39.4 39.4 0 0 0 123.61 73.37ZM125.17 73.28A40.1 40.1 0 0 1 125.93 73.64L125.62 74.27A39.4 39.4 0 0 0 124.88 73.92ZM134.04 77.71A40.95 40.95 0 0 1 134.7 78.25L133.71 79.44A39.4 39.4 0 0 0 133.07 78.92ZM136.95 80.85A40.52 40.52 0 0 1 137.55 81.45L136.75 82.23A39.4 39.4 0 0 0 136.17 81.65ZM140.51 85.22A40.28 40.28 0 0 1 141.02 85.9L140.31 86.42A39.4 39.4 0 0 0 139.82 85.76ZM141.24 86.43A40.15 40.15 0 0 1 141.73 87.12L141.11 87.54A39.4 39.4 0 0 0 140.64 86.86ZM146.64 94.74A40.91 40.91 0 0 1 146.95 95.54L145.53 96.07A39.4 39.4 0 0 0 145.23 95.3ZM147.37 97.5A40.67 40.67 0 0 1 147.62 98.32L146.4 98.68A39.4 39.4 0 0 0 146.16 97.89ZM147.85 100.31A40.38 40.38 0 0 1 148.04 101.13L147.08 101.34A39.4 39.4 0 0 0 146.9 100.54ZM147.94 101.72A40.17 40.17 0 0 1 148.11 102.55L147.35 102.69A39.4 39.4 0 0 0 147.2 101.88ZM148.71 103.02A40.68 40.68 0 0 1 148.84 103.86L147.58 104.04A39.4 39.4 0 0 0 147.45 103.23ZM148.32 105.9A39.91 39.91 0 0 1 148.4 106.74L147.88 106.78A39.4 39.4 0 0 0 147.81 105.96ZM148.9 110.08A40.31 40.31 0 0 1 148.89 110.93L147.98 110.9A39.4 39.4 0 0 0 148 110.08ZM149.5 111.51A40.93 40.93 0 0 1 149.45 112.37L147.92 112.27A39.4 39.4 0 0 0 147.97 111.45ZM148.38 114.26A40.03 40.03 0 0 1 148.28 115.09L147.65 115.01A39.4 39.4 0 0 0 147.75 114.19ZM147.45 119.78A40.11 40.11 0 0 1 147.24 120.59L146.55 120.4A39.4 39.4 0 0 0 146.76 119.6ZM146.37 123.85A40.3 40.3 0 0 1 146.07 124.64L145.23 124.3A39.4 39.4 0 0 0 145.53 123.53ZM140.61 135.17A40.85 40.85 0 0 1 140.07 135.84L138.96 134.91A39.4 39.4 0 0 0 139.48 134.27ZM138.99 135.66A39.91 39.91 0 0 1 138.44 136.3L138.06 135.96A39.4 39.4 0 0 0 138.6 135.34ZM131.84 142.26A39.92 39.92 0 0 1 131.15 142.74L130.86 142.31A39.4 39.4 0 0 0 131.54 141.84ZM127.46 145.88A40.71 40.71 0 0 1 126.7 146.26L126.12 145.09A39.4 39.4 0 0 0 126.85 144.72ZM123.42 147.24A40.27 40.27 0 0 1 122.64 147.54L122.33 146.73A39.4 39.4 0 0 0 123.1 146.43ZM119.5 148.84A40.54 40.54 0 0 1 118.68 149.06L118.4 147.96A39.4 39.4 0 0 0 119.2 147.75ZM115.28 149.3A40.06 40.06 0 0 1 114.45 149.43L114.36 148.78A39.4 39.4 0 0 0 115.17 148.65ZM109.75 150.89A41.1 41.1 0 0 1 108.89 150.9L108.88 149.2A39.4 39.4 0 0 0 109.7 149.18ZM102.62 150.28A40.92 40.92 0 0 1 101.78 150.15L102.03 148.65A39.4 39.4 0 0 0 102.84 148.78ZM101.3 149.56A40.43 40.43 0 0 1 100.47 149.4L100.68 148.4A39.4 39.4 0 0 0 101.49 148.55ZM97.25 148.35A40.18 40.18 0 0 1 96.45 148.1L96.69 147.36A39.4 39.4 0 0 0 97.48 147.6ZM91.98 146.43A40.22 40.22 0 0 1 91.22 146.07L91.58 145.33A39.4 39.4 0 0 0 92.32 145.68ZM88.04 144.84A40.63 40.63 0 0 1 87.31 144.41L87.95 143.36A39.4 39.4 0 0 0 88.66 143.78ZM85.44 143.62A40.99 40.99 0 0 1 84.74 143.13L85.66 141.84A39.4 39.4 0 0 0 86.34 142.31ZM84.46 142.54A40.68 40.68 0 0 1 83.78 142.03L84.56 141.02A39.4 39.4 0 0 0 85.22 141.51ZM74.7 132.33A40.7 40.7 0 0 1 74.23 131.61L75.33 130.91A39.4 39.4 0 0 0 75.78 131.6ZM73.04 130A40.89 40.89 0 0 1 72.63 129.25L73.94 128.54A39.4 39.4 0 0 0 74.34 129.26ZM71.47 126.02A40.52 40.52 0 0 1 71.14 125.24L72.17 124.81A39.4 39.4 0 0 0 72.5 125.57ZM71.35 124.55A40.07 40.07 0 0 1 71.05 123.77L71.67 123.53A39.4 39.4 0 0 0 71.97 124.3ZM70.02 122.04A40.47 40.47 0 0 1 69.77 121.23L70.8 120.92A39.4 39.4 0 0 0 71.04 121.71ZM69.01 119.38A40.73 40.73 0 0 1 68.82 118.55L70.12 118.26A39.4 39.4 0 0 0 70.3 119.06ZM68.58 118.01A40.85 40.85 0 0 1 68.42 117.17L69.85 116.91A39.4 39.4 0 0 0 70 117.72ZM68.24 113.76A40.56 40.56 0 0 1 68.16 112.91L69.32 112.82A39.4 39.4 0 0 0 69.39 113.64ZM67.59 109.51A41.01 41.01 0 0 1 67.6 108.65L69.22 108.7A39.4 39.4 0 0 0 69.2 109.52ZM67.87 103.78A41.18 41.18 0 0 1 68 102.93L69.75 103.23A39.4 39.4 0 0 0 69.62 104.04ZM69.34 98.25A40.92 40.92 0 0 1 69.59 97.43L71.04 97.89A39.4 39.4 0 0 0 70.8 98.68ZM70.77 95.73A40.36 40.36 0 0 1 71.08 94.94L71.97 95.3A39.4 39.4 0 0 0 71.67 96.07ZM71.2 92.84A41.07 41.07 0 0 1 71.57 92.06L73.07 92.78A39.4 39.4 0 0 0 72.72 93.52ZM71.91 91.59A40.96 40.96 0 0 1 72.3 90.82L73.68 91.55A39.4 39.4 0 0 0 73.31 92.28ZM72.93 90.51A40.55 40.55 0 0 1 73.34 89.77L74.34 90.34A39.4 39.4 0 0 0 73.94 91.06ZM74.62 88.24A40.24 40.24 0 0 1 75.08 87.53L75.78 88A39.4 39.4 0 0 0 75.33 88.69ZM77.15 84.87A40.14 40.14 0 0 1 77.67 84.22L78.24 84.69A39.4 39.4 0 0 0 77.72 85.33ZM77.29 83.15A41.12 41.12 0 0 1 77.85 82.5L79.14 83.64A39.4 39.4 0 0 0 78.6 84.26ZM80.38 80.17A40.92 40.92 0 0 1 81.01 79.58L82.03 80.7A39.4 39.4 0 0 0 81.43 81.27ZM81.65 79.45A40.59 40.59 0 0 1 82.29 78.89L83.06 79.8A39.4 39.4 0 0 0 82.44 80.34ZM89.52 73.3A41.19 41.19 0 0 1 90.29 72.9L91.08 74.51A39.4 39.4 0 0 0 90.35 74.88ZM94.78 71A41.19 41.19 0 0 1 95.6 70.72L96.16 72.41A39.4 39.4 0 0 0 95.38 72.68ZM101.78 69.51A40.87 40.87 0 0 1 102.63 69.37L102.84 70.82A39.4 39.4 0 0 0 102.03 70.95ZM102.99 67.72A42.45 42.45 0 0 1 103.87 67.61L104.21 70.65A39.4 39.4 0 0 0 103.39 70.75ZM104.5 68A42 42 0 0 1 105.38 67.93L105.58 70.52A39.4 39.4 0 0 0 104.76 70.59ZM107.43 67.76A42.06 42.06 0 0 1 108.31 67.74L108.32 70.4A39.4 39.4 0 0 0 107.5 70.42ZM80.56 75.63A44.2 44.2 0 0 1 81.01 75.27L84.01 79.02A39.4 39.4 0 0 0 83.6 79.34ZM87 68.96A46.2 46.2 0 0 1 87.54 68.68L90.64 74.73A39.4 39.4 0 0 0 90.18 74.97ZM121.92 64.31A47.4 47.4 0 0 1 122.52 64.49L120.17 72.14A39.4 39.4 0 0 0 119.67 71.99ZM133.49 69.7A47.2 47.2 0 0 1 134.01 70.03L129.81 76.6A39.4 39.4 0 0 0 129.38 76.32ZM147.68 92.09A42.9 42.9 0 0 1 147.9 92.61L144.7 94.01A39.4 39.4 0 0 0 144.49 93.54ZM149.5 109.53A40.9 40.9 0 0 1 149.5 110.07L148 110.06A39.4 39.4 0 0 0 148 109.54ZM149.49 118.96A41.9 41.9 0 0 1 149.36 119.49L146.93 118.91A39.4 39.4 0 0 0 147.05 118.41ZM145.28 129A41.4 41.4 0 0 1 145.03 129.47L143.27 128.52A39.4 39.4 0 0 0 143.51 128.07ZM121.26 150.27A42.4 42.4 0 0 1 120.73 150.43L119.87 147.55A39.4 39.4 0 0 0 120.37 147.4ZM96.61 149.95A41.9 41.9 0 0 1 96.09 149.79L96.83 147.4A39.4 39.4 0 0 0 97.33 147.55ZM75.36 136.12A42.4 42.4 0 0 1 75.02 135.68L77.39 133.85A39.4 39.4 0 0 0 77.71 134.26ZM69.31 122.85A41.4 41.4 0 0 1 69.14 122.34L71.05 121.73A39.4 39.4 0 0 0 71.21 122.22ZM66.24 111.56A42.4 42.4 0 0 1 66.22 111L69.22 110.92A39.4 39.4 0 0 0 69.23 111.43ZM68.45 97.81A41.9 41.9 0 0 1 68.61 97.29L71 98.03A39.4 39.4 0 0 0 70.85 98.53ZM72.07 87.31A42.9 42.9 0 0 1 72.37 86.83L75.32 88.7A39.4 39.4 0 0 0 75.05 89.14ZM82.28 76.56A42.4 42.4 0 0 1 82.72 76.22L84.55 78.59A39.4 39.4 0 0 0 84.14 78.91ZM102.31 67.06A43.2 43.2 0 0 1 102.87 66.98L103.37 70.75A39.4 39.4 0 0 0 102.86 70.82ZM106.03 66.28A43.6 43.6 0 0 1 106.6 66.25L106.8 70.44A39.4 39.4 0 0 0 106.28 70.47ZM111.32 66.89A43 43 0 0 1 111.88 66.93L111.61 70.51A39.4 39.4 0 0 0 111.09 70.48ZM114.99 67.68A42.6 42.6 0 0 1 115.54 67.77L115.02 70.93A39.4 39.4 0 0 0 114.51 70.85Z" fill="#1a1a1a"/>
<circle cx="108.6" cy="109.8" r="39.4" fill="none" stroke="#3a3a3a" stroke-width="0.55"/>
<text x="108.6" y="137.4" font-size="4.1" fill="#111" stroke="#111" stroke-width="0.2" text-anchor="middle">Somatic</text>
<text x="108.6" y="148.9" font-size="4.1" fill="#111" stroke="#111" stroke-width="0.2" text-anchor="middle">Germline</text>
<circle cx="109.05" cy="48.45" r="0.7" fill="#333"/>
<circle cx="109.05" cy="55.55" r="0.5" fill="#aaa"/>
<path d="M123.34 47.55A64.5 64.5 0 0 1 124.43 47.81L123.26 52.57A59.6 59.6 0 0 0 122.25 52.33Z" fill="#161616"/>
<path d="M124.74 47.89A64.5 64.5 0 0 1 145.85 57.48L143.05 61.5A59.6 59.6 0 0 0 123.55 52.64Z" fill="#6a34ae" stroke="#fff" stroke-width="0.45"/>
<path d="M146.09 57.64A64.5 64.5 0 0 1 147 58.3L144.12 62.26A59.6 59.6 0 0 0 143.27 61.66Z" fill="#161616"/>
<path d="M147.24 58.47A64.5 64.5 0 0 1 169.72 88.56L165.11 90.22A59.6 59.6 0 0 0 144.34 62.42Z" fill="#6a34ae" stroke="#fff" stroke-width="0.45"/>
<path d="M169.84 88.9A64.5 64.5 0 0 1 170.21 89.97L165.56 91.52A59.6 59.6 0 0 0 165.23 90.54Z" fill="#161616"/>
<path d="M170.34 90.36A64.5 64.5 0 0 1 173.48 113.38L168.59 113.16A59.6 59.6 0 0 0 165.69 91.89Z" fill="#4279c2" stroke="#fff" stroke-width="0.45"/>
<path d="M173.47 113.67A64.5 64.5 0 0 1 173.4 114.79L168.51 114.46A59.6 59.6 0 0 0 168.58 113.43Z" fill="#161616"/>
<path d="M166.19 114.78A57.3 57.3 0 0 1 166.1 115.77L161.32 115.33A52.5 52.5 0 0 0 161.4 114.41Z" fill="#161616"/>
<path d="M173.21 117.05A64.5 64.5 0 0 1 173.09 118.17L168.22 117.58A59.6 59.6 0 0 0 168.34 116.55Z" fill="#161616"/>
<path d="M173.05 118.45A64.5 64.5 0 0 1 165.05 142.45L160.8 140.01A59.6 59.6 0 0 0 168.19 117.84Z" fill="#4279c2" stroke="#fff" stroke-width="0.45"/>
<path d="M164.91 142.69A64.5 64.5 0 0 1 164.34 143.66L160.14 141.14A59.6 59.6 0 0 0 160.67 140.24Z" fill="#161616"/>
<path d="M157.84 140.5A57.3 57.3 0 0 1 157.31 141.35L153.26 138.76A52.5 52.5 0 0 0 153.75 137.98Z" fill="#161616"/>
<path d="M157 141.82A57.3 57.3 0 0 1 156.45 142.65L152.48 139.95A52.5 52.5 0 0 0 152.98 139.19Z" fill="#161616"/>
<path d="M155.77 143.62A57.3 57.3 0 0 1 155.18 144.43L151.32 141.59A52.5 52.5 0 0 0 151.86 140.85Z" fill="#161616"/>
<path d="M154.94 144.77A57.3 57.3 0 0 1 154.33 145.56L150.54 142.62A52.5 52.5 0 0 0 151.09 141.89Z" fill="#161616"/>
<path d="M159.68 150.41A64.5 64.5 0 0 1 129.24 171.71L127.7 167.06A59.6 59.6 0 0 0 155.84 147.37Z" fill="#e4382e" stroke="#fff" stroke-width="0.45"/>
<path d="M126.74 164.95A57.3 57.3 0 0 1 125.78 165.25L124.38 160.66A52.5 52.5 0 0 0 125.26 160.39Z" fill="#161616"/>
<path d="M127.29 172.32A64.5 64.5 0 0 1 126.21 172.63L124.9 167.9A59.6 59.6 0 0 0 125.9 167.62Z" fill="#161616"/>
<path d="M125.94 172.7A64.5 64.5 0 0 1 109.43 174.95L109.4 170.05A59.6 59.6 0 0 0 124.65 167.97Z" fill="#e4382e" stroke="#fff" stroke-width="0.45"/>
<path d="M108.51 174.95A64.5 64.5 0 0 1 107.39 174.93L107.51 170.03A59.6 59.6 0 0 0 108.55 170.05Z" fill="#161616"/>
<path d="M107.06 174.92A64.5 64.5 0 0 1 102.03 174.57L102.57 169.7A59.6 59.6 0 0 0 107.21 170.02Z" fill="#e2a93b" stroke="#fff" stroke-width="0.45"/>
<path d="M102.01 174.56A64.5 64.5 0 0 1 86.94 171.04L88.62 166.44A59.6 59.6 0 0 0 102.54 169.69Z" fill="#e2a93b" stroke="#fff" stroke-width="0.45"/>
<path d="M86.94 171.04A64.5 64.5 0 0 1 70.18 161.92L73.14 158.01A59.6 59.6 0 0 0 88.62 166.44Z" fill="#e4382e" stroke="#fff" stroke-width="0.45"/>
<path d="M69.96 161.75A64.5 64.5 0 0 1 69.07 161.06L72.11 157.22A59.6 59.6 0 0 0 72.93 157.86Z" fill="#161616"/>
<path d="M68.85 160.89A64.5 64.5 0 0 1 62.61 155.21L66.14 151.81A59.6 59.6 0 0 0 71.9 157.06Z" fill="#4279c2" stroke="#fff" stroke-width="0.45"/>
<path d="M62.44 155.04A64.5 64.5 0 0 1 61.67 154.22L65.27 150.89A59.6 59.6 0 0 0 65.98 151.65Z" fill="#161616"/>
<path d="M61.51 154.04A64.5 64.5 0 0 1 56.92 148.44L60.88 145.55A59.6 59.6 0 0 0 65.12 150.73Z" fill="#4279c2" stroke="#fff" stroke-width="0.45"/>
<path d="M56.91 148.42A64.5 64.5 0 0 1 44.94 117.52L49.81 116.99A59.6 59.6 0 0 0 60.87 145.53Z" fill="#4279c2" stroke="#fff" stroke-width="0.45"/>
<path d="M44.83 116.45A64.5 64.5 0 0 1 44.73 115.33L49.62 114.96A59.6 59.6 0 0 0 49.71 115.99Z" fill="#161616"/>
<path d="M44.78 115.9A64.5 64.5 0 0 1 44.7 114.77L49.58 114.45A59.6 59.6 0 0 0 49.66 115.48Z" fill="#161616"/>
<path d="M44.63 113.75A64.5 64.5 0 0 1 44.59 112.62L49.48 112.46A59.6 59.6 0 0 0 49.53 113.5Z" fill="#161616"/>
<path d="M44.59 112.64A64.5 64.5 0 0 1 57.81 71.28L61.7 74.25A59.6 59.6 0 0 0 49.48 112.48Z" fill="#4279c2" stroke="#fff" stroke-width="0.45"/>
<path d="M63.54 75.63A57.3 57.3 0 0 1 71.31 67.33L74.47 70.95A52.5 52.5 0 0 0 67.35 78.55Z" fill="#4279c2" stroke="#fff" stroke-width="0.45"/>
<path d="M71.51 67.16A57.3 57.3 0 0 1 72.27 66.51L75.35 70.19A52.5 52.5 0 0 0 74.65 70.79Z" fill="#161616"/>
<path d="M67.95 60.74A64.5 64.5 0 0 1 92.55 48.1L93.81 52.83A59.6 59.6 0 0 0 71.07 64.52Z" fill="#5cb56c" stroke="#fff" stroke-width="0.45"/>
<path d="M92.8 48.03A64.5 64.5 0 0 1 93.89 47.76L95.05 52.52A59.6 59.6 0 0 0 94.04 52.77Z" fill="#161616"/>
<path d="M96.07 54.64A57.3 57.3 0 0 1 97.05 54.42L98.05 59.11A52.5 52.5 0 0 0 97.16 59.31Z" fill="#161616"/>
<text x="124.46" y="44.9" font-size="4" fill="#1a1a1a" stroke="#1a1a1a" stroke-width="0.1" dominant-baseline="central" transform="rotate(-76.7 124.46 44.9)">MT-TF</text>
<text x="136.76" y="49.1" font-size="4.1" fill="#1a1a1a" stroke="#1a1a1a" stroke-width="0.1" dominant-baseline="central" transform="rotate(-65.57 136.76 49.1)">MT-RNR1</text>
<text x="148" y="55.59" font-size="4" fill="#1a1a1a" stroke="#1a1a1a" stroke-width="0.1" dominant-baseline="central" transform="rotate(-54.45 148 55.59)">MT-TV</text>
<text x="162.72" y="70" font-size="4.1" fill="#1a1a1a" stroke="#1a1a1a" stroke-width="0.1" dominant-baseline="central" transform="rotate(-36.77 162.72 70)">MT-RNR2</text>
<text x="172.39" y="88.27" font-size="4" fill="#1a1a1a" stroke="#1a1a1a" stroke-width="0.1" dominant-baseline="central" transform="rotate(-19.02 172.39 88.27)">MT-TL1</text>
<text x="175.24" y="101.07" font-size="6.5" fill="#111" stroke="#111" stroke-width="0.3" textLength="21.66" lengthAdjust="spacingAndGlyphs" dominant-baseline="central" transform="rotate(-7.77 175.24 101.07)">MT-ND1</text>
<text x="172.42" y="131.22" font-size="6.5" fill="#111" stroke="#111" stroke-width="0.3" textLength="21.66" lengthAdjust="spacingAndGlyphs" dominant-baseline="central" transform="rotate(18.43 172.42 131.22)">MT-ND2</text>
<text x="147.35" y="164.83" font-size="6.5" fill="#111" stroke="#111" stroke-width="0.3" textLength="21.99" lengthAdjust="spacingAndGlyphs" dominant-baseline="central" transform="rotate(55.02 147.35 164.83)">MT-CO1</text>
<text x="120.92" y="175.02" font-size="6.5" fill="#111" stroke="#111" stroke-width="0.3" textLength="21.99" lengthAdjust="spacingAndGlyphs" dominant-baseline="central" transform="rotate(79.64 120.92 175.02)">MT-CO2</text>
<text x="107.91" y="177.09" font-size="4" fill="#1a1a1a" stroke="#1a1a1a" stroke-width="0.1" text-anchor="end" dominant-baseline="central" transform="rotate(-89.02 107.91 177.09)">MT-TK</text>
<text x="105.26" y="175.59" font-size="6.5" fill="#111" stroke="#111" stroke-width="0.3" textLength="24.47" lengthAdjust="spacingAndGlyphs" text-anchor="end" dominant-baseline="central" transform="rotate(-86.69 105.26 175.59)">MT-ATP8</text>
<text x="95.35" y="174.25" font-size="6.5" fill="#111" stroke="#111" stroke-width="0.3" textLength="24.47" lengthAdjust="spacingAndGlyphs" text-anchor="end" dominant-baseline="central" transform="rotate(-77.94 95.35 174.25)">MT-ATP6</text>
<text x="77.56" y="167.99" font-size="6.5" fill="#111" stroke="#111" stroke-width="0.3" textLength="21.99" lengthAdjust="spacingAndGlyphs" text-anchor="end" dominant-baseline="central" transform="rotate(-61.45 77.56 167.99)">MT-CO3</text>
<text x="67.98" y="163.04" font-size="4" fill="#1a1a1a" stroke="#1a1a1a" stroke-width="0.1" text-anchor="end" dominant-baseline="central" transform="rotate(-52.19 67.98 163.04)">MT-TG</text>
<text x="64.7" y="158.84" font-size="6.5" fill="#111" stroke="#111" stroke-width="0.3" textLength="21.66" lengthAdjust="spacingAndGlyphs" text-anchor="end" dominant-baseline="central" transform="rotate(-47.7 64.7 158.84)">MT-ND3</text>
<text x="60.23" y="155.99" font-size="4" fill="#1a1a1a" stroke="#1a1a1a" stroke-width="0.1" text-anchor="end" dominant-baseline="central" transform="rotate(-43.23 60.23 155.99)">MT-TR</text>
<text x="58.05" y="151.84" font-size="6.5" fill="#111" stroke="#111" stroke-width="0.3" textLength="25.22" lengthAdjust="spacingAndGlyphs" text-anchor="end" dominant-baseline="central" transform="rotate(-39.3 58.05 151.84)">MT-ND4L</text>
<text x="47.6" y="133.91" font-size="6.5" fill="#111" stroke="#111" stroke-width="0.3" textLength="21.66" lengthAdjust="spacingAndGlyphs" text-anchor="end" dominant-baseline="central" transform="rotate(-21.18 47.6 133.91)">MT-ND4</text>
<text x="46.28" y="90.04" font-size="6.5" fill="#111" stroke="#111" stroke-width="0.3" textLength="21.66" lengthAdjust="spacingAndGlyphs" text-anchor="end" dominant-baseline="central" transform="rotate(17.72 46.28 90.04)">MT-ND5</text>
<text x="60.94" y="65.06" font-size="6.5" fill="#111" stroke="#111" stroke-width="0.3" textLength="21.66" lengthAdjust="spacingAndGlyphs" text-anchor="end" dominant-baseline="central" transform="rotate(43.11 60.94 65.06)">MT-ND6</text>
<text x="65.6" y="59.1" font-size="4" fill="#1a1a1a" stroke="#1a1a1a" stroke-width="0.1" text-anchor="end" dominant-baseline="central" transform="rotate(49.57 65.6 59.1)">MT-TE</text>
<text x="78.92" y="51.49" font-size="6.5" fill="#111" stroke="#111" stroke-width="0.3" textLength="22.31" lengthAdjust="spacingAndGlyphs" text-anchor="end" dominant-baseline="central" transform="rotate(62.8 78.92 51.49)">MT-CYB</text>
<text x="92.74" y="45.12" font-size="4" fill="#1a1a1a" stroke="#1a1a1a" stroke-width="0.1" text-anchor="end" dominant-baseline="central" transform="rotate(75.91 92.74 45.12)">MT-TT</text>
<text x="94.44" y="44.71" font-size="4" fill="#1a1a1a" stroke="#1a1a1a" stroke-width="0.1" text-anchor="end" dominant-baseline="central" transform="rotate(77.41 94.44 44.71)">MT-TP</text>
<text x="175.2" y="112.8" font-size="4" fill="#1a1a1a" stroke="#1a1a1a" stroke-width="0.1" dominant-baseline="central" transform="rotate(3 175.2 112.8)">MT-TI</text>
<text x="175" y="118.9" font-size="4" fill="#1a1a1a" stroke="#1a1a1a" stroke-width="0.1" dominant-baseline="central" transform="rotate(3 175 118.9)">MT-TM</text>
<text x="190.2" y="117.2" font-size="4" fill="#1a1a1a" stroke="#1a1a1a" stroke-width="0.1" dominant-baseline="central" transform="rotate(3 190.2 117.2)">MT-TQ</text>
<line x1="166" y1="115.6" x2="175" y2="115.6" stroke="#555" stroke-width="0.35"/>
<line x1="182" y1="117.2" x2="190" y2="117.2" stroke="#555" stroke-width="0.35"/>
<text x="43.2" y="113.2" font-size="4" fill="#1a1a1a" stroke="#1a1a1a" stroke-width="0.1" text-anchor="end" dominant-baseline="central" transform="rotate(-4 43.2 113.2)">MT-TL2</text>
<text x="43.2" y="118.9" font-size="4" fill="#1a1a1a" stroke="#1a1a1a" stroke-width="0.1" text-anchor="end" dominant-baseline="central" transform="rotate(-4 43.2 118.9)">MT-TH</text>
<text x="25.6" y="116.5" font-size="4" fill="#1a1a1a" stroke="#1a1a1a" stroke-width="0.1" text-anchor="end" dominant-baseline="central" transform="rotate(-4 25.6 116.5)">MT-TS2</text>
<line x1="26" y1="116.2" x2="44" y2="116" stroke="#555" stroke-width="0.35"/>
<text x="167" y="143.6" font-size="4" fill="#1a1a1a" stroke="#1a1a1a" stroke-width="0.1" dominant-baseline="central" transform="rotate(31 167 143.6)">MT-TW</text>
<text x="163" y="148.3" font-size="4" fill="#1a1a1a" stroke="#1a1a1a" stroke-width="0.1" dominant-baseline="central" transform="rotate(31 163 148.3)">MT-TN</text>
<text x="161" y="153.3" font-size="4" fill="#1a1a1a" stroke="#1a1a1a" stroke-width="0.1" dominant-baseline="central" transform="rotate(31 161 153.3)">MT-TY</text>
<text x="177.4" y="154.6" font-size="4" fill="#1a1a1a" stroke="#1a1a1a" stroke-width="0.1" dominant-baseline="central" transform="rotate(31 177.4 154.6)">MT-TA</text>
<text x="175" y="160.2" font-size="4" fill="#1a1a1a" stroke="#1a1a1a" stroke-width="0.1" dominant-baseline="central" transform="rotate(31 175 160.2)">MT-TC</text>
<line x1="153" y1="140" x2="166.5" y2="145.2" stroke="#555" stroke-width="0.35"/>
<line x1="151" y1="143" x2="162.5" y2="149" stroke="#555" stroke-width="0.35"/>
<line x1="149" y1="146" x2="160.5" y2="153.5" stroke="#555" stroke-width="0.35"/>
<line x1="172" y1="148.5" x2="177.5" y2="153.4" stroke="#555" stroke-width="0.35"/>
<line x1="170" y1="153.5" x2="175.5" y2="159" stroke="#555" stroke-width="0.35"/>
<text x="127.5" y="171.5" font-size="4" fill="#1a1a1a" stroke="#1a1a1a" stroke-width="0.1" dominant-baseline="central" transform="rotate(70 127.5 171.5)">MT-TS1</text>
<text x="131.5" y="170.5" font-size="4" fill="#1a1a1a" stroke="#1a1a1a" stroke-width="0.1" dominant-baseline="central" transform="rotate(70 131.5 170.5)">MT-TD</text>
</g>
<text x="1" y="9.4" font-size="11.8" fill="#111" stroke="#111" stroke-width="0.1">A</text>
<circle cx="44.8" cy="8" r="2.95" fill="#4279c2"/>
<text x="49.9" y="10.7" font-size="7.5" fill="#222" stroke="#222" stroke-width="0.18" textLength="32.2" lengthAdjust="spacingAndGlyphs">Complex I</text>
<circle cx="91.1" cy="8" r="2.95" fill="#5cb56c"/>
<text x="96.2" y="10.7" font-size="7.5" fill="#222" stroke="#222" stroke-width="0.18" textLength="36.6" lengthAdjust="spacingAndGlyphs">Complex III</text>
<circle cx="141.6" cy="8" r="2.95" fill="#e4382e"/>
<text x="146.7" y="10.7" font-size="7.5" fill="#222" stroke="#222" stroke-width="0.18" textLength="37.7" lengthAdjust="spacingAndGlyphs">Complex IV</text>
<circle cx="57.6" cy="22.1" r="2.95" fill="#e2a93b"/>
<text x="63" y="24.8" font-size="7.5" fill="#222" stroke="#222" stroke-width="0.18" textLength="34.7" lengthAdjust="spacingAndGlyphs">Complex V</text>
<circle cx="106.6" cy="22.1" r="2.95" fill="#1a1a1a"/>
<text x="111.7" y="24.8" font-size="7.5" fill="#222" stroke="#222" stroke-width="0.18" textLength="17.1" lengthAdjust="spacingAndGlyphs">tRNA</text>
<circle cx="138.2" cy="22.1" r="2.95" fill="#6a34ae"/>
<text x="143" y="24.8" font-size="7.5" fill="#222" stroke="#222" stroke-width="0.18" textLength="17" lengthAdjust="spacingAndGlyphs">rRNA</text>
<text x="203.6" y="11.4" font-size="12" fill="#111" stroke="#111" stroke-width="0.29" font-weight="bold">B</text>
<rect x="229.6" y="40.7" width="250.9" height="108.7" fill="#fff" stroke="#cfcfcf" stroke-width="0.7"/>
<line x1="229.6" y1="128.9" x2="480.5" y2="128.9" stroke="#f6f6f6" stroke-width="0.5"/>
<line x1="229.6" y1="97.1" x2="480.5" y2="97.1" stroke="#f6f6f6" stroke-width="0.5"/>
<line x1="229.6" y1="65.3" x2="480.5" y2="65.3" stroke="#f6f6f6" stroke-width="0.5"/>
<line x1="229.6" y1="144.8" x2="480.5" y2="144.8" stroke="#eeeeee" stroke-width="0.6"/>
<line x1="229.6" y1="113" x2="480.5" y2="113" stroke="#eeeeee" stroke-width="0.6"/>
<line x1="229.6" y1="81.2" x2="480.5" y2="81.2" stroke="#eeeeee" stroke-width="0.6"/>
<line x1="229.6" y1="49.4" x2="480.5" y2="49.4" stroke="#eeeeee" stroke-width="0.6"/>
<line x1="236.8" y1="40.7" x2="236.8" y2="149.4" stroke="#eeeeee" stroke-width="0.6"/>
<line x1="243.19" y1="40.7" x2="243.19" y2="149.4" stroke="#eeeeee" stroke-width="0.6"/>
<line x1="249.57" y1="40.7" x2="249.57" y2="149.4" stroke="#eeeeee" stroke-width="0.6"/>
<line x1="255.96" y1="40.7" x2="255.96" y2="149.4" stroke="#eeeeee" stroke-width="0.6"/>
<line x1="262.34" y1="40.7" x2="262.34" y2="149.4" stroke="#eeeeee" stroke-width="0.6"/>
<line x1="268.73" y1="40.7" x2="268.73" y2="149.4" stroke="#eeeeee" stroke-width="0.6"/>
<line x1="275.12" y1="40.7" x2="275.12" y2="149.4" stroke="#eeeeee" stroke-width="0.6"/>
<line x1="281.5" y1="40.7" x2="281.5" y2="149.4" stroke="#eeeeee" stroke-width="0.6"/>
<line x1="287.89" y1="40.7" x2="287.89" y2="149.4" stroke="#eeeeee" stroke-width="0.6"/>
<line x1="294.27" y1="40.7" x2="294.27" y2="149.4" stroke="#eeeeee" stroke-width="0.6"/>
<line x1="300.66" y1="40.7" x2="300.66" y2="149.4" stroke="#eeeeee" stroke-width="0.6"/>
<line x1="307.05" y1="40.7" x2="307.05" y2="149.4" stroke="#eeeeee" stroke-width="0.6"/>
<line x1="313.43" y1="40.7" x2="313.43" y2="149.4" stroke="#eeeeee" stroke-width="0.6"/>
<line x1="319.82" y1="40.7" x2="319.82" y2="149.4" stroke="#eeeeee" stroke-width="0.6"/>
<line x1="326.2" y1="40.7" x2="326.2" y2="149.4" stroke="#eeeeee" stroke-width="0.6"/>
<line x1="332.59" y1="40.7" x2="332.59" y2="149.4" stroke="#eeeeee" stroke-width="0.6"/>
<line x1="338.98" y1="40.7" x2="338.98" y2="149.4" stroke="#eeeeee" stroke-width="0.6"/>
<line x1="345.36" y1="40.7" x2="345.36" y2="149.4" stroke="#eeeeee" stroke-width="0.6"/>
<line x1="351.75" y1="40.7" x2="351.75" y2="149.4" stroke="#eeeeee" stroke-width="0.6"/>
<line x1="358.13" y1="40.7" x2="358.13" y2="149.4" stroke="#eeeeee" stroke-width="0.6"/>
<line x1="364.52" y1="40.7" x2="364.52" y2="149.4" stroke="#eeeeee" stroke-width="0.6"/>
<line x1="370.91" y1="40.7" x2="370.91" y2="149.4" stroke="#eeeeee" stroke-width="0.6"/>
<line x1="377.29" y1="40.7" x2="377.29" y2="149.4" stroke="#eeeeee" stroke-width="0.6"/>
<line x1="383.68" y1="40.7" x2="383.68" y2="149.4" stroke="#eeeeee" stroke-width="0.6"/>
<line x1="390.06" y1="40.7" x2="390.06" y2="149.4" stroke="#eeeeee" stroke-width="0.6"/>
<line x1="396.45" y1="40.7" x2="396.45" y2="149.4" stroke="#eeeeee" stroke-width="0.6"/>
<line x1="402.84" y1="40.7" x2="402.84" y2="149.4" stroke="#eeeeee" stroke-width="0.6"/>
<line x1="409.22" y1="40.7" x2="409.22" y2="149.4" stroke="#eeeeee" stroke-width="0.6"/>
<line x1="415.61" y1="40.7" x2="415.61" y2="149.4" stroke="#eeeeee" stroke-width="0.6"/>
<line x1="421.99" y1="40.7" x2="421.99" y2="149.4" stroke="#eeeeee" stroke-width="0.6"/>
<line x1="428.38" y1="40.7" x2="428.38" y2="149.4" stroke="#eeeeee" stroke-width="0.6"/>
<line x1="434.77" y1="40.7" x2="434.77" y2="149.4" stroke="#eeeeee" stroke-width="0.6"/>
<line x1="441.15" y1="40.7" x2="441.15" y2="149.4" stroke="#eeeeee" stroke-width="0.6"/>
<line x1="447.54" y1="40.7" x2="447.54" y2="149.4" stroke="#eeeeee" stroke-width="0.6"/>
<line x1="453.92" y1="40.7" x2="453.92" y2="149.4" stroke="#eeeeee" stroke-width="0.6"/>
<line x1="460.31" y1="40.7" x2="460.31" y2="149.4" stroke="#eeeeee" stroke-width="0.6"/>
<line x1="466.7" y1="40.7" x2="466.7" y2="149.4" stroke="#eeeeee" stroke-width="0.6"/>
<line x1="473.08" y1="40.7" x2="473.08" y2="149.4" stroke="#eeeeee" stroke-width="0.6"/>
<rect x="233.93" y="50.67" width="5.75" height="94.13" fill="#5e6670"/>
<rect x="240.31" y="140.6" width="5.75" height="4.2" fill="#7b77c2"/>
<rect x="240.31" y="127.44" width="5.75" height="13.17" fill="#2e7b40"/>
<rect x="240.31" y="126.1" width="5.75" height="1.34" fill="#3f7be6"/>
<rect x="246.7" y="143.4" width="5.75" height="1.4" fill="#7b77c2"/>
<rect x="246.7" y="142.13" width="5.75" height="1.27" fill="#e9a92c"/>
<rect x="246.7" y="139.84" width="5.75" height="2.29" fill="#2e7b40"/>
<rect x="253.08" y="132.97" width="5.75" height="11.83" fill="#7b77c2"/>
<rect x="253.08" y="127.63" width="5.75" height="5.34" fill="#e9a92c"/>
<rect x="253.08" y="84.38" width="5.75" height="43.25" fill="#2e7b40"/>
<rect x="253.08" y="82.79" width="5.75" height="1.59" fill="#f3c2ae"/>
<rect x="253.08" y="81.58" width="5.75" height="1.21" fill="#3f7be6"/>
<rect x="259.47" y="139.84" width="5.75" height="4.96" fill="#7b77c2"/>
<rect x="259.47" y="136.91" width="5.75" height="2.93" fill="#e9a92c"/>
<rect x="259.47" y="123.81" width="5.75" height="13.1" fill="#2e7b40"/>
<rect x="265.86" y="137.87" width="5.75" height="6.93" fill="#7b77c2"/>
<rect x="265.86" y="133.67" width="5.75" height="4.2" fill="#e9a92c"/>
<rect x="265.86" y="106.51" width="5.75" height="27.16" fill="#2e7b40"/>
<rect x="265.86" y="105.69" width="5.75" height="0.83" fill="#3f7be6"/>
<rect x="272.24" y="134.81" width="5.75" height="9.99" fill="#7b77c2"/>
<rect x="272.24" y="129.92" width="5.75" height="4.9" fill="#e9a92c"/>
<rect x="272.24" y="91.38" width="5.75" height="38.54" fill="#2e7b40"/>
<rect x="272.24" y="90.23" width="5.75" height="1.14" fill="#3f7be6"/>
<rect x="278.63" y="138.44" width="5.75" height="6.36" fill="#7b77c2"/>
<rect x="278.63" y="137.3" width="5.75" height="1.14" fill="#e9a92c"/>
<rect x="278.63" y="106.64" width="5.75" height="30.66" fill="#2e7b40"/>
<rect x="278.63" y="105.69" width="5.75" height="0.95" fill="#3f7be6"/>
<rect x="285.01" y="134.81" width="5.75" height="9.99" fill="#7b77c2"/>
<rect x="285.01" y="132.72" width="5.75" height="2.1" fill="#e9a92c"/>
<rect x="285.01" y="98.82" width="5.75" height="33.9" fill="#2e7b40"/>
<rect x="285.01" y="95.57" width="5.75" height="3.24" fill="#3f7be6"/>
<rect x="291.4" y="142.26" width="5.75" height="2.54" fill="#7b77c2"/>
<rect x="291.4" y="134.94" width="5.75" height="7.31" fill="#2e7b40"/>
<rect x="297.79" y="135.39" width="5.75" height="9.41" fill="#7b77c2"/>
<rect x="297.79" y="130.17" width="5.75" height="5.22" fill="#e9a92c"/>
<rect x="297.79" y="85.02" width="5.75" height="45.16" fill="#2e7b40"/>
<rect x="297.79" y="84.19" width="5.75" height="0.83" fill="#3f7be6"/>
<rect x="304.17" y="144.16" width="5.75" height="0.64" fill="#7b77c2"/>
<rect x="304.17" y="143.72" width="5.75" height="0.45" fill="#e9a92c"/>
<rect x="304.17" y="134.5" width="5.75" height="9.22" fill="#2e7b40"/>
<rect x="304.17" y="133.67" width="5.75" height="0.83" fill="#3f7be6"/>
<rect x="310.56" y="124.89" width="5.75" height="19.91" fill="#7b77c2"/>
<rect x="310.56" y="122.41" width="5.75" height="2.48" fill="#e9a92c"/>
<rect x="310.56" y="62.31" width="5.75" height="60.1" fill="#2e7b40"/>
<rect x="310.56" y="60.4" width="5.75" height="1.91" fill="#f3c2ae"/>
<rect x="310.56" y="53.41" width="5.75" height="7" fill="#3f7be6"/>
<rect x="316.94" y="140.35" width="5.75" height="4.45" fill="#7b77c2"/>
<rect x="316.94" y="124.58" width="5.75" height="15.77" fill="#2e7b40"/>
<rect x="316.94" y="122.99" width="5.75" height="1.59" fill="#3f7be6"/>
<rect x="323.33" y="88.01" width="5.75" height="56.79" fill="#54a0e3"/>
<rect x="329.72" y="50.67" width="5.75" height="94.13" fill="#54a0e3"/>
<rect x="336.1" y="139.01" width="5.75" height="5.79" fill="#54a0e3"/>
<rect x="342.49" y="141.87" width="5.75" height="2.93" fill="#54a0e3"/>
<rect x="348.87" y="140.09" width="5.75" height="4.71" fill="#54a0e3"/>
<rect x="355.26" y="140.79" width="5.75" height="4.01" fill="#54a0e3"/>
<rect x="361.64" y="143.08" width="5.75" height="1.72" fill="#54a0e3"/>
<rect x="368.03" y="140.79" width="5.75" height="4.01" fill="#54a0e3"/>
<rect x="374.42" y="144.16" width="5.75" height="0.64" fill="#54a0e3"/>
<rect x="380.8" y="141.87" width="5.75" height="2.93" fill="#54a0e3"/>
<rect x="387.19" y="143.08" width="5.75" height="1.72" fill="#54a0e3"/>
<rect x="393.58" y="143.08" width="5.75" height="1.72" fill="#54a0e3"/>
<rect x="399.96" y="140.48" width="5.75" height="4.32" fill="#54a0e3"/>
<rect x="406.35" y="140.79" width="5.75" height="4.01" fill="#54a0e3"/>
<rect x="412.73" y="141.87" width="5.75" height="2.93" fill="#54a0e3"/>
<rect x="419.12" y="143.08" width="5.75" height="1.72" fill="#54a0e3"/>
<rect x="425.5" y="143.78" width="5.75" height="1.02" fill="#54a0e3"/>
<rect x="431.89" y="144.29" width="5.75" height="0.51" fill="#54a0e3"/>
<rect x="438.28" y="142.26" width="5.75" height="2.54" fill="#54a0e3"/>
<rect x="444.66" y="141.87" width="5.75" height="2.93" fill="#54a0e3"/>
<rect x="451.05" y="140.79" width="5.75" height="4.01" fill="#54a0e3"/>
<rect x="457.44" y="140.79" width="5.75" height="4.01" fill="#54a0e3"/>
<rect x="463.82" y="140.79" width="5.75" height="4.01" fill="#54a0e3"/>
<rect x="470.21" y="143.78" width="5.75" height="1.02" fill="#54a0e3"/>
<line x1="228" y1="144.8" x2="229.6" y2="144.8" stroke="#555" stroke-width="0.5"/>
<text x="226.8" y="147" font-size="6.5" fill="#2a2a2a" stroke="#2a2a2a" stroke-width="0.16" textLength="3.24" lengthAdjust="spacingAndGlyphs" text-anchor="end">0</text>
<line x1="228" y1="113" x2="229.6" y2="113" stroke="#555" stroke-width="0.5"/>
<text x="226.8" y="115.2" font-size="6.5" fill="#2a2a2a" stroke="#2a2a2a" stroke-width="0.16" textLength="6.48" lengthAdjust="spacingAndGlyphs" text-anchor="end">50</text>
<line x1="228" y1="81.2" x2="229.6" y2="81.2" stroke="#555" stroke-width="0.5"/>
<text x="226.8" y="83.4" font-size="6.5" fill="#2a2a2a" stroke="#2a2a2a" stroke-width="0.16" textLength="9.72" lengthAdjust="spacingAndGlyphs" text-anchor="end">100</text>
<line x1="228" y1="49.4" x2="229.6" y2="49.4" stroke="#555" stroke-width="0.5"/>
<text x="226.8" y="51.6" font-size="6.5" fill="#2a2a2a" stroke="#2a2a2a" stroke-width="0.16" textLength="9.72" lengthAdjust="spacingAndGlyphs" text-anchor="end">150</text>
<text x="213.7" y="94.4" font-size="6.3" fill="#111" stroke="#111" stroke-width="0.15" textLength="58" lengthAdjust="spacingAndGlyphs" text-anchor="middle" transform="rotate(-90 213.7 94.4)">Number of Mutations</text>
<line x1="236.8" y1="149.4" x2="236.8" y2="151.1" stroke="#555" stroke-width="0.5"/>
<text x="239.2" y="155.8" font-size="6.5" fill="#2a2a2a" stroke="#2a2a2a" stroke-width="0.16" textLength="13.8" lengthAdjust="spacingAndGlyphs" text-anchor="end" transform="rotate(-45 239.2 155.8)">NCR</text>
<line x1="243.19" y1="149.4" x2="243.19" y2="151.1" stroke="#555" stroke-width="0.5"/>
<text x="245.59" y="155.8" font-size="6.5" fill="#2a2a2a" stroke="#2a2a2a" stroke-width="0.16" textLength="26.43" lengthAdjust="spacingAndGlyphs" text-anchor="end" transform="rotate(-45 245.59 155.8)">MT-ATP6</text>
<line x1="249.57" y1="149.4" x2="249.57" y2="151.1" stroke="#555" stroke-width="0.5"/>
<text x="251.97" y="155.8" font-size="6.5" fill="#2a2a2a" stroke="#2a2a2a" stroke-width="0.16" textLength="26.43" lengthAdjust="spacingAndGlyphs" text-anchor="end" transform="rotate(-45 251.97 155.8)">MT-ATP8</text>
<line x1="255.96" y1="149.4" x2="255.96" y2="151.1" stroke="#555" stroke-width="0.5"/>
<text x="258.36" y="155.8" font-size="6.5" fill="#2a2a2a" stroke="#2a2a2a" stroke-width="0.16" textLength="24.06" lengthAdjust="spacingAndGlyphs" text-anchor="end" transform="rotate(-45 258.36 155.8)">MT-CO1</text>
<line x1="262.34" y1="149.4" x2="262.34" y2="151.1" stroke="#555" stroke-width="0.5"/>
<text x="264.74" y="155.8" font-size="6.5" fill="#2a2a2a" stroke="#2a2a2a" stroke-width="0.16" textLength="24.06" lengthAdjust="spacingAndGlyphs" text-anchor="end" transform="rotate(-45 264.74 155.8)">MT-CO2</text>
<line x1="268.73" y1="149.4" x2="268.73" y2="151.1" stroke="#555" stroke-width="0.5"/>
<text x="271.13" y="155.8" font-size="6.5" fill="#2a2a2a" stroke="#2a2a2a" stroke-width="0.16" textLength="24.06" lengthAdjust="spacingAndGlyphs" text-anchor="end" transform="rotate(-45 271.13 155.8)">MT-CO3</text>
<line x1="275.12" y1="149.4" x2="275.12" y2="151.1" stroke="#555" stroke-width="0.5"/>
<text x="277.52" y="155.8" font-size="6.5" fill="#2a2a2a" stroke="#2a2a2a" stroke-width="0.16" textLength="24.07" lengthAdjust="spacingAndGlyphs" text-anchor="end" transform="rotate(-45 277.52 155.8)">MT-CYB</text>
<line x1="281.5" y1="149.4" x2="281.5" y2="151.1" stroke="#555" stroke-width="0.5"/>
<text x="283.9" y="155.8" font-size="6.5" fill="#2a2a2a" stroke="#2a2a2a" stroke-width="0.16" textLength="23.71" lengthAdjust="spacingAndGlyphs" text-anchor="end" transform="rotate(-45 283.9 155.8)">MT-ND1</text>
<line x1="287.89" y1="149.4" x2="287.89" y2="151.1" stroke="#555" stroke-width="0.5"/>
<text x="290.29" y="155.8" font-size="6.5" fill="#2a2a2a" stroke="#2a2a2a" stroke-width="0.16" textLength="23.71" lengthAdjust="spacingAndGlyphs" text-anchor="end" transform="rotate(-45 290.29 155.8)">MT-ND2</text>
<line x1="294.27" y1="149.4" x2="294.27" y2="151.1" stroke="#555" stroke-width="0.5"/>
<text x="296.67" y="155.8" font-size="6.5" fill="#2a2a2a" stroke="#2a2a2a" stroke-width="0.16" textLength="23.71" lengthAdjust="spacingAndGlyphs" text-anchor="end" transform="rotate(-45 296.67 155.8)">MT-ND3</text>
<line x1="300.66" y1="149.4" x2="300.66" y2="151.1" stroke="#555" stroke-width="0.5"/>
<text x="303.06" y="155.8" font-size="6.5" fill="#2a2a2a" stroke="#2a2a2a" stroke-width="0.16" textLength="23.71" lengthAdjust="spacingAndGlyphs" text-anchor="end" transform="rotate(-45 303.06 155.8)">MT-ND4</text>
<line x1="307.05" y1="149.4" x2="307.05" y2="151.1" stroke="#555" stroke-width="0.5"/>
<text x="309.45" y="155.8" font-size="6.5" fill="#2a2a2a" stroke="#2a2a2a" stroke-width="0.16" textLength="27.25" lengthAdjust="spacingAndGlyphs" text-anchor="end" transform="rotate(-45 309.45 155.8)">MT-ND4L</text>
<line x1="313.43" y1="149.4" x2="313.43" y2="151.1" stroke="#555" stroke-width="0.5"/>
<text x="315.83" y="155.8" font-size="6.5" fill="#2a2a2a" stroke="#2a2a2a" stroke-width="0.16" textLength="23.71" lengthAdjust="spacingAndGlyphs" text-anchor="end" transform="rotate(-45 315.83 155.8)">MT-ND5</text>
<line x1="319.82" y1="149.4" x2="319.82" y2="151.1" stroke="#555" stroke-width="0.5"/>
<text x="322.22" y="155.8" font-size="6.5" fill="#2a2a2a" stroke="#2a2a2a" stroke-width="0.16" textLength="23.71" lengthAdjust="spacingAndGlyphs" text-anchor="end" transform="rotate(-45 322.22 155.8)">MT-ND6</text>
<line x1="326.2" y1="149.4" x2="326.2" y2="151.1" stroke="#555" stroke-width="0.5"/>
<text x="328.6" y="155.8" font-size="6.5" fill="#2a2a2a" stroke="#2a2a2a" stroke-width="0.16" textLength="28.31" lengthAdjust="spacingAndGlyphs" text-anchor="end" transform="rotate(-45 328.6 155.8)">MT-RNR1</text>
<line x1="332.59" y1="149.4" x2="332.59" y2="151.1" stroke="#555" stroke-width="0.5"/>
<text x="334.99" y="155.8" font-size="6.5" fill="#2a2a2a" stroke="#2a2a2a" stroke-width="0.16" textLength="28.31" lengthAdjust="spacingAndGlyphs" text-anchor="end" transform="rotate(-45 334.99 155.8)">MT-RNR2</text>
<line x1="338.98" y1="149.4" x2="338.98" y2="151.1" stroke="#555" stroke-width="0.5"/>
<text x="341.38" y="155.8" font-size="6.5" fill="#2a2a2a" stroke="#2a2a2a" stroke-width="0.16" textLength="18.63" lengthAdjust="spacingAndGlyphs" text-anchor="end" transform="rotate(-45 341.38 155.8)">MT-TA</text>
<line x1="345.36" y1="149.4" x2="345.36" y2="151.1" stroke="#555" stroke-width="0.5"/>
<text x="347.76" y="155.8" font-size="6.5" fill="#2a2a2a" stroke="#2a2a2a" stroke-width="0.16" textLength="19.46" lengthAdjust="spacingAndGlyphs" text-anchor="end" transform="rotate(-45 347.76 155.8)">MT-TC</text>
<line x1="351.75" y1="149.4" x2="351.75" y2="151.1" stroke="#555" stroke-width="0.5"/>
<text x="354.15" y="155.8" font-size="6.5" fill="#2a2a2a" stroke="#2a2a2a" stroke-width="0.16" textLength="19.46" lengthAdjust="spacingAndGlyphs" text-anchor="end" transform="rotate(-45 354.15 155.8)">MT-TD</text>
<line x1="358.13" y1="149.4" x2="358.13" y2="151.1" stroke="#555" stroke-width="0.5"/>
<text x="360.53" y="155.8" font-size="6.5" fill="#2a2a2a" stroke="#2a2a2a" stroke-width="0.16" textLength="19.11" lengthAdjust="spacingAndGlyphs" text-anchor="end" transform="rotate(-45 360.53 155.8)">MT-TE</text>
<line x1="364.52" y1="149.4" x2="364.52" y2="151.1" stroke="#555" stroke-width="0.5"/>
<text x="366.92" y="155.8" font-size="6.5" fill="#2a2a2a" stroke="#2a2a2a" stroke-width="0.16" textLength="18.75" lengthAdjust="spacingAndGlyphs" text-anchor="end" transform="rotate(-45 366.92 155.8)">MT-TF</text>
<line x1="370.91" y1="149.4" x2="370.91" y2="151.1" stroke="#555" stroke-width="0.5"/>
<text x="373.31" y="155.8" font-size="6.5" fill="#2a2a2a" stroke="#2a2a2a" stroke-width="0.16" textLength="19.81" lengthAdjust="spacingAndGlyphs" text-anchor="end" transform="rotate(-45 373.31 155.8)">MT-TG</text>
<line x1="377.29" y1="149.4" x2="377.29" y2="151.1" stroke="#555" stroke-width="0.5"/>
<text x="379.69" y="155.8" font-size="6.5" fill="#2a2a2a" stroke="#2a2a2a" stroke-width="0.16" textLength="19.46" lengthAdjust="spacingAndGlyphs" text-anchor="end" transform="rotate(-45 379.69 155.8)">MT-TH</text>
<line x1="383.68" y1="149.4" x2="383.68" y2="151.1" stroke="#555" stroke-width="0.5"/>
<text x="386.08" y="155.8" font-size="6.5" fill="#2a2a2a" stroke="#2a2a2a" stroke-width="0.16" textLength="16.63" lengthAdjust="spacingAndGlyphs" text-anchor="end" transform="rotate(-45 386.08 155.8)">MT-TI</text>
<line x1="390.06" y1="149.4" x2="390.06" y2="151.1" stroke="#555" stroke-width="0.5"/>
<text x="392.46" y="155.8" font-size="6.5" fill="#2a2a2a" stroke="#2a2a2a" stroke-width="0.16" textLength="19.11" lengthAdjust="spacingAndGlyphs" text-anchor="end" transform="rotate(-45 392.46 155.8)">MT-TK</text>
<line x1="396.45" y1="149.4" x2="396.45" y2="151.1" stroke="#555" stroke-width="0.5"/>
<text x="398.85" y="155.8" font-size="6.5" fill="#2a2a2a" stroke="#2a2a2a" stroke-width="0.16" textLength="21.94" lengthAdjust="spacingAndGlyphs" text-anchor="end" transform="rotate(-45 398.85 155.8)">MT-TL1</text>
<line x1="402.84" y1="149.4" x2="402.84" y2="151.1" stroke="#555" stroke-width="0.5"/>
<text x="405.24" y="155.8" font-size="6.5" fill="#2a2a2a" stroke="#2a2a2a" stroke-width="0.16" textLength="21.94" lengthAdjust="spacingAndGlyphs" text-anchor="end" transform="rotate(-45 405.24 155.8)">MT-TL2</text>
<line x1="409.22" y1="149.4" x2="409.22" y2="151.1" stroke="#555" stroke-width="0.5"/>
<text x="411.62" y="155.8" font-size="6.5" fill="#2a2a2a" stroke="#2a2a2a" stroke-width="0.16" textLength="20.16" lengthAdjust="spacingAndGlyphs" text-anchor="end" transform="rotate(-45 411.62 155.8)">MT-TM</text>
<line x1="415.61" y1="149.4" x2="415.61" y2="151.1" stroke="#555" stroke-width="0.5"/>
<text x="418.01" y="155.8" font-size="6.5" fill="#2a2a2a" stroke="#2a2a2a" stroke-width="0.16" textLength="19.46" lengthAdjust="spacingAndGlyphs" text-anchor="end" transform="rotate(-45 418.01 155.8)">MT-TN</text>
<line x1="421.99" y1="149.4" x2="421.99" y2="151.1" stroke="#555" stroke-width="0.5"/>
<text x="424.39" y="155.8" font-size="6.5" fill="#2a2a2a" stroke="#2a2a2a" stroke-width="0.16" textLength="19.11" lengthAdjust="spacingAndGlyphs" text-anchor="end" transform="rotate(-45 424.39 155.8)">MT-TP</text>
<line x1="428.38" y1="149.4" x2="428.38" y2="151.1" stroke="#555" stroke-width="0.5"/>
<text x="430.78" y="155.8" font-size="6.5" fill="#2a2a2a" stroke="#2a2a2a" stroke-width="0.16" textLength="19.81" lengthAdjust="spacingAndGlyphs" text-anchor="end" transform="rotate(-45 430.78 155.8)">MT-TQ</text>
<line x1="434.77" y1="149.4" x2="434.77" y2="151.1" stroke="#555" stroke-width="0.5"/>
<text x="437.17" y="155.8" font-size="6.5" fill="#2a2a2a" stroke="#2a2a2a" stroke-width="0.16" textLength="19.46" lengthAdjust="spacingAndGlyphs" text-anchor="end" transform="rotate(-45 437.17 155.8)">MT-TR</text>
<line x1="441.15" y1="149.4" x2="441.15" y2="151.1" stroke="#555" stroke-width="0.5"/>
<text x="443.55" y="155.8" font-size="6.5" fill="#2a2a2a" stroke="#2a2a2a" stroke-width="0.16" textLength="22.65" lengthAdjust="spacingAndGlyphs" text-anchor="end" transform="rotate(-45 443.55 155.8)">MT-TS1</text>
<line x1="447.54" y1="149.4" x2="447.54" y2="151.1" stroke="#555" stroke-width="0.5"/>
<text x="449.94" y="155.8" font-size="6.5" fill="#2a2a2a" stroke="#2a2a2a" stroke-width="0.16" textLength="22.65" lengthAdjust="spacingAndGlyphs" text-anchor="end" transform="rotate(-45 449.94 155.8)">MT-TS2</text>
<line x1="453.92" y1="149.4" x2="453.92" y2="151.1" stroke="#555" stroke-width="0.5"/>
<text x="456.32" y="155.8" font-size="6.5" fill="#2a2a2a" stroke="#2a2a2a" stroke-width="0.16" textLength="18.75" lengthAdjust="spacingAndGlyphs" text-anchor="end" transform="rotate(-45 456.32 155.8)">MT-TT</text>
<line x1="460.31" y1="149.4" x2="460.31" y2="151.1" stroke="#555" stroke-width="0.5"/>
<text x="462.71" y="155.8" font-size="6.5" fill="#2a2a2a" stroke="#2a2a2a" stroke-width="0.16" textLength="19.11" lengthAdjust="spacingAndGlyphs" text-anchor="end" transform="rotate(-45 462.71 155.8)">MT-TV</text>
<line x1="466.7" y1="149.4" x2="466.7" y2="151.1" stroke="#555" stroke-width="0.5"/>
<text x="469.1" y="155.8" font-size="6.5" fill="#2a2a2a" stroke="#2a2a2a" stroke-width="0.16" textLength="20.87" lengthAdjust="spacingAndGlyphs" text-anchor="end" transform="rotate(-45 469.1 155.8)">MT-TW</text>
<line x1="473.08" y1="149.4" x2="473.08" y2="151.1" stroke="#555" stroke-width="0.5"/>
<text x="475.48" y="155.8" font-size="6.5" fill="#2a2a2a" stroke="#2a2a2a" stroke-width="0.16" textLength="19.11" lengthAdjust="spacingAndGlyphs" text-anchor="end" transform="rotate(-45 475.48 155.8)">MT-TY</text>
<text x="324.9" y="183.9" font-size="6.4" fill="#111" stroke="#111" stroke-width="0.16" textLength="59.9" lengthAdjust="spacingAndGlyphs">Mitochondrial Feature</text>
<text x="484.2" y="12" font-size="12" fill="#111" stroke="#111" stroke-width="0.1">C</text>
<rect x="502.4" y="39.4" width="112.7" height="109" fill="#fff" stroke="#cfcfcf" stroke-width="0.7"/>
<line x1="502.4" y1="132.88" x2="615.1" y2="132.88" stroke="#f6f6f6" stroke-width="0.5"/>
<line x1="502.4" y1="110.83" x2="615.1" y2="110.83" stroke="#f6f6f6" stroke-width="0.5"/>
<line x1="502.4" y1="88.78" x2="615.1" y2="88.78" stroke="#f6f6f6" stroke-width="0.5"/>
<line x1="502.4" y1="66.73" x2="615.1" y2="66.73" stroke="#f6f6f6" stroke-width="0.5"/>
<line x1="502.4" y1="44.68" x2="615.1" y2="44.68" stroke="#f6f6f6" stroke-width="0.5"/>
<line x1="502.4" y1="143.9" x2="615.1" y2="143.9" stroke="#eeeeee" stroke-width="0.6"/>
<line x1="502.4" y1="121.85" x2="615.1" y2="121.85" stroke="#eeeeee" stroke-width="0.6"/>
<line x1="502.4" y1="99.8" x2="615.1" y2="99.8" stroke="#eeeeee" stroke-width="0.6"/>
<line x1="502.4" y1="77.75" x2="615.1" y2="77.75" stroke="#eeeeee" stroke-width="0.6"/>
<line x1="502.4" y1="55.7" x2="615.1" y2="55.7" stroke="#eeeeee" stroke-width="0.6"/>
<line x1="518.3" y1="39.4" x2="518.3" y2="148.4" stroke="#eeeeee" stroke-width="0.6"/>
<line x1="545.3" y1="39.4" x2="545.3" y2="148.4" stroke="#eeeeee" stroke-width="0.6"/>
<line x1="572.3" y1="39.4" x2="572.3" y2="148.4" stroke="#eeeeee" stroke-width="0.6"/>
<line x1="599.4" y1="39.4" x2="599.4" y2="148.4" stroke="#eeeeee" stroke-width="0.6"/>
<rect x="511.5" y="126.26" width="13.6" height="17.64" fill="#7b77c2"/>
<rect x="511.5" y="122.95" width="13.6" height="3.31" fill="#e9a92c"/>
<rect x="511.5" y="122.29" width="13.6" height="0.66" fill="#ade0a8"/>
<rect x="511.5" y="52.17" width="13.6" height="70.12" fill="#2e7b40"/>
<rect x="511.5" y="51.29" width="13.6" height="0.88" fill="#f3c2ae"/>
<rect x="511.5" y="46" width="13.6" height="5.29" fill="#3f7be6"/>
<rect x="538.5" y="141.25" width="13.6" height="2.65" fill="#7b77c2"/>
<rect x="538.5" y="139.49" width="13.6" height="1.76" fill="#e9a92c"/>
<rect x="538.5" y="125.82" width="13.6" height="13.67" fill="#2e7b40"/>
<rect x="538.5" y="125.16" width="13.6" height="0.66" fill="#3f7be6"/>
<rect x="565.5" y="136.18" width="13.6" height="7.72" fill="#7b77c2"/>
<rect x="565.5" y="131.77" width="13.6" height="4.41" fill="#e9a92c"/>
<rect x="565.5" y="103.11" width="13.6" height="28.66" fill="#2e7b40"/>
<rect x="565.5" y="101.34" width="13.6" height="1.76" fill="#3f7be6"/>
<rect x="592.6" y="142.8" width="13.6" height="1.1" fill="#7b77c2"/>
<rect x="592.6" y="142.14" width="13.6" height="0.66" fill="#e9a92c"/>
<rect x="592.6" y="136.18" width="13.6" height="5.95" fill="#2e7b40"/>
<rect x="592.6" y="135.74" width="13.6" height="0.44" fill="#3f7be6"/>
<line x1="500.7" y1="143.9" x2="502.4" y2="143.9" stroke="#555" stroke-width="0.5"/>
<text x="500.1" y="145.95" font-size="5.3" fill="#2a2a2a" stroke="#2a2a2a" stroke-width="0.13" textLength="2.8" lengthAdjust="spacingAndGlyphs" text-anchor="end">0</text>
<line x1="500.7" y1="121.85" x2="502.4" y2="121.85" stroke="#555" stroke-width="0.5"/>
<text x="500.1" y="123.9" font-size="5.3" fill="#2a2a2a" stroke="#2a2a2a" stroke-width="0.13" textLength="8.4" lengthAdjust="spacingAndGlyphs" text-anchor="end">100</text>
<line x1="500.7" y1="99.8" x2="502.4" y2="99.8" stroke="#555" stroke-width="0.5"/>
<text x="500.1" y="101.85" font-size="5.3" fill="#2a2a2a" stroke="#2a2a2a" stroke-width="0.13" textLength="8.4" lengthAdjust="spacingAndGlyphs" text-anchor="end">200</text>
<line x1="500.7" y1="77.75" x2="502.4" y2="77.75" stroke="#555" stroke-width="0.5"/>
<text x="500.1" y="79.8" font-size="5.3" fill="#2a2a2a" stroke="#2a2a2a" stroke-width="0.13" textLength="8.4" lengthAdjust="spacingAndGlyphs" text-anchor="end">300</text>
<line x1="500.7" y1="55.7" x2="502.4" y2="55.7" stroke="#555" stroke-width="0.5"/>
<text x="500.1" y="57.75" font-size="5.3" fill="#2a2a2a" stroke="#2a2a2a" stroke-width="0.13" textLength="8.4" lengthAdjust="spacingAndGlyphs" text-anchor="end">400</text>
<line x1="518.3" y1="148.4" x2="518.3" y2="150.1" stroke="#555" stroke-width="0.5"/>
<line x1="545.3" y1="148.4" x2="545.3" y2="150.1" stroke="#555" stroke-width="0.5"/>
<line x1="572.3" y1="148.4" x2="572.3" y2="150.1" stroke="#555" stroke-width="0.5"/>
<line x1="599.4" y1="148.4" x2="599.4" y2="150.1" stroke="#555" stroke-width="0.5"/>
<text x="488.6" y="93.8" font-size="5.4" fill="#111" stroke="#111" stroke-width="0.13" textLength="48.5" lengthAdjust="spacingAndGlyphs" text-anchor="middle" transform="rotate(-90 488.6 93.8)">Number of Mutations</text>
<text x="506.2" y="155.1" font-size="5.5" fill="#2a2a2a" stroke="#2a2a2a" stroke-width="0.13" textLength="106.2" lengthAdjust="spacingAndGlyphs">Complex I Complex IIIComplex IVComplex V</text>
<text x="509.2" y="160.8" font-size="5.6" fill="#111" stroke="#111" stroke-width="0.14" textLength="99.1" lengthAdjust="spacingAndGlyphs">Mitochondrial Respiratory Chain Complex</text>
<text x="622.2" y="60.2" font-size="7.1" fill="#111" stroke="#111" stroke-width="0.17" font-weight="bold" textLength="45.9" lengthAdjust="spacingAndGlyphs">Consequence</text>
<rect x="622.2" y="64.75" width="9.7" height="9.3" fill="#3f7be6"/>
<text x="636" y="71.5" font-size="6.1" fill="#222" stroke="#222" stroke-width="0.15" textLength="42.08" lengthAdjust="spacingAndGlyphs">Frameshift Variant</text>
<rect x="622.2" y="74.95" width="9.7" height="9.3" fill="#e9a92c"/>
<text x="636" y="81.7" font-size="6.1" fill="#222" stroke="#222" stroke-width="0.15" textLength="28.9" lengthAdjust="spacingAndGlyphs">Stop Gained</text>
<rect x="622.2" y="85.15" width="9.7" height="9.3" fill="#2e7b40"/>
<text x="636" y="91.9" font-size="6.1" fill="#222" stroke="#222" stroke-width="0.15" textLength="39.49" lengthAdjust="spacingAndGlyphs">Missense Variant</text>
<rect x="622.2" y="95.35" width="9.7" height="9.3" fill="#c53a2b"/>
<text x="636" y="102.1" font-size="6.1" fill="#222" stroke="#222" stroke-width="0.15" textLength="32.95" lengthAdjust="spacingAndGlyphs">Stop Retained</text>
<rect x="622.2" y="105.55" width="9.7" height="9.3" fill="#f3c2ae"/>
<text x="636" y="112.3" font-size="6.1" fill="#222" stroke="#222" stroke-width="0.15" textLength="38.14" lengthAdjust="spacingAndGlyphs">Inframe Deletion</text>
<rect x="622.2" y="115.75" width="9.7" height="9.3" fill="#ade0a8"/>
<text x="636" y="122.5" font-size="6.1" fill="#222" stroke="#222" stroke-width="0.15" textLength="39.01" lengthAdjust="spacingAndGlyphs">Inframe Insertion</text>
<rect x="622.2" y="125.95" width="9.7" height="9.3" fill="#7b77c2"/>
<text x="636" y="132.7" font-size="6.1" fill="#222" stroke="#222" stroke-width="0.15" textLength="47.58" lengthAdjust="spacingAndGlyphs">Synonymous Variant</text>
<text x="6.2" y="209" font-size="11.2" fill="#111">D</text>
<text x="66.1" y="219" font-size="10.8" fill="#1a1a1a" stroke="#1a1a1a" stroke-width="0.26" font-weight="bold" textLength="164" lengthAdjust="spacingAndGlyphs">Predicted Deleterious Mutations</text>
<clipPath id="clipD"><rect x="65.4" y="229.8" width="232" height="99.3"/></clipPath>
<g clip-path="url(#clipD)"><polygon points="65.4,310.7 200,309 222,307.3 225,306.4 233.5,300.4 242.9,291 250.6,286.7 256.6,277.3 260.9,267.1 265.1,262.8 267.7,255.1 268.8,250 271.5,238.5 276,234.5 279.5,232 283,228 298,228 298,274.6 296.8,274.8 287.4,276.5 279.7,285 270.3,286.7 266,292.7 259.2,296.1 247.2,303 225,307.5 222,309 200,310.9 65.4,312.7" fill="#7ac1f7"/>
<polyline points="65.4,311.7 140,311.7 164.8,311.1 183.8,310.2 198.4,309.9 205.7,308.9 222.5,308 225,306.5 229,305.5 233.5,303 243.8,297 250.6,295.3 260,281.6 266,275.6 270.3,262.8 276.3,260.3 280.5,257.7 284.8,250 288.2,242.4 293.3,240.9 297.6,239.4" fill="none" stroke="#1b1b1b" stroke-width="1.3" stroke-linejoin="round"/></g>
<path d="M65.4 229.8H297.4V329.1H65.4" fill="none" stroke="#8a8a8a" stroke-width="1.1"/>
<line x1="297.4" y1="229.8" x2="297.4" y2="329.1" stroke="#707070" stroke-width="1"/>
<line x1="65.4" y1="229.8" x2="65.4" y2="329.1" stroke="#3a3a3a" stroke-width="0.9"/>
<line x1="61.9" y1="233.35" x2="65.4" y2="233.35" stroke="#444" stroke-width="0.7"/>
<text x="56.9" y="233.35" font-size="9.1" fill="#222" stroke="#222" stroke-width="0.22" textLength="13.1" lengthAdjust="spacingAndGlyphs" text-anchor="middle" transform="rotate(-90 56.9 233.35)">3.5</text>
<line x1="61.9" y1="248.68" x2="65.4" y2="248.68" stroke="#444" stroke-width="0.7"/>
<line x1="61.9" y1="264.01" x2="65.4" y2="264.01" stroke="#444" stroke-width="0.7"/>
<text x="56.9" y="264.01" font-size="9.1" fill="#222" stroke="#222" stroke-width="0.22" textLength="13.1" lengthAdjust="spacingAndGlyphs" text-anchor="middle" transform="rotate(-90 56.9 264.01)">2.5</text>
<line x1="61.9" y1="279.34" x2="65.4" y2="279.34" stroke="#444" stroke-width="0.7"/>
<line x1="61.9" y1="294.67" x2="65.4" y2="294.67" stroke="#444" stroke-width="0.7"/>
<text x="56.9" y="294.67" font-size="9.1" fill="#222" stroke="#222" stroke-width="0.22" textLength="13.1" lengthAdjust="spacingAndGlyphs" text-anchor="middle" transform="rotate(-90 56.9 294.67)">1.5</text>
<line x1="61.9" y1="310" x2="65.4" y2="310" stroke="#444" stroke-width="0.7"/>
<line x1="61.9" y1="325.33" x2="65.4" y2="325.33" stroke="#444" stroke-width="0.7"/>
<text x="56.9" y="325.33" font-size="9.1" fill="#222" stroke="#222" stroke-width="0.22" textLength="13.1" lengthAdjust="spacingAndGlyphs" text-anchor="middle" transform="rotate(-90 56.9 325.33)">0.5</text>
<text x="39.8" y="279.5" font-size="9.1" fill="#111" stroke="#111" stroke-width="0.22" textLength="88.8" lengthAdjust="spacingAndGlyphs" text-anchor="middle" transform="rotate(-90 39.8 279.5)">Relative Hazard Ratio</text>
<text x="65.8" y="345.3" font-size="9.2" fill="#111" stroke="#111" stroke-width="0.22" textLength="143.7" lengthAdjust="spacingAndGlyphs">Samples Ordered by Heteroplasmy</text>
<line x1="214.7" y1="342.6" x2="294.4" y2="342.6" stroke="#111" stroke-width="1.2"/>
<path d="M297.7 342.6L292.8 340.7L292.8 344.5Z" fill="#111"/>
<text x="161.3" y="246.6" font-size="9" fill="#111" stroke="#111" stroke-width="0.22" font-style="italic" textLength="98.2" lengthAdjust="spacingAndGlyphs">Coxph p-value = 0.0002</text>
<text x="322.2" y="209" font-size="11.2" fill="#111">E</text>
<text x="369.8" y="218.9" font-size="10.8" fill="#1a1a1a" stroke="#1a1a1a" stroke-width="0.26" font-weight="bold" textLength="124.1" lengthAdjust="spacingAndGlyphs">Synonymous Mutations</text>
<clipPath id="clipE"><rect x="369.5" y="230" width="237.1" height="100.4"/></clipPath>
<g clip-path="url(#clipE)"><polygon points="369.5,310.5 520,310.4 528.6,310.3 541.4,309.3 556.3,308.3 560.6,306.6 571.3,304.9 578.8,303.8 582,299.5 584.1,289.9 588.4,288.9 594.8,286.1 601.2,284.6 607,280.3 607,332 584.1,332 582,322 579.9,317.7 571.3,317.3 560.6,316 556.3,314.5 541.4,313.4 528.6,312.2 520,312.2 369.5,312.1" fill="#7ac1f7"/>
<polyline points="369.5,311.3 528.6,311.3 560,310.9 580,310.5 584,309.9 606.6,309.5" fill="none" stroke="#1b1b1b" stroke-width="1.3" stroke-linejoin="round"/></g>
<path d="M369.5 230H606.6V330.4H369.5" fill="none" stroke="#8a8a8a" stroke-width="1.1"/>
<line x1="606.6" y1="230" x2="606.6" y2="330.4" stroke="#707070" stroke-width="1"/>
<line x1="369.5" y1="230" x2="369.5" y2="330.4" stroke="#3a3a3a" stroke-width="0.9"/>
<line x1="366" y1="234.4" x2="369.5" y2="234.4" stroke="#444" stroke-width="0.7"/>
<text x="361" y="234.4" font-size="9.1" fill="#222" stroke="#222" stroke-width="0.22" textLength="13.1" lengthAdjust="spacingAndGlyphs" text-anchor="middle" transform="rotate(-90 361 234.4)">3.5</text>
<line x1="366" y1="249.75" x2="369.5" y2="249.75" stroke="#444" stroke-width="0.7"/>
<line x1="366" y1="265.1" x2="369.5" y2="265.1" stroke="#444" stroke-width="0.7"/>
<text x="361" y="265.1" font-size="9.1" fill="#222" stroke="#222" stroke-width="0.22" textLength="13.1" lengthAdjust="spacingAndGlyphs" text-anchor="middle" transform="rotate(-90 361 265.1)">2.5</text>
<line x1="366" y1="280.45" x2="369.5" y2="280.45" stroke="#444" stroke-width="0.7"/>
<line x1="366" y1="295.8" x2="369.5" y2="295.8" stroke="#444" stroke-width="0.7"/>
<text x="361" y="295.8" font-size="9.1" fill="#222" stroke="#222" stroke-width="0.22" textLength="13.1" lengthAdjust="spacingAndGlyphs" text-anchor="middle" transform="rotate(-90 361 295.8)">1.5</text>
<line x1="366" y1="311.15" x2="369.5" y2="311.15" stroke="#444" stroke-width="0.7"/>
<line x1="366" y1="326.5" x2="369.5" y2="326.5" stroke="#444" stroke-width="0.7"/>
<text x="361" y="326.5" font-size="9.1" fill="#222" stroke="#222" stroke-width="0.22" textLength="13.1" lengthAdjust="spacingAndGlyphs" text-anchor="middle" transform="rotate(-90 361 326.5)">0.5</text>
<text x="343.9" y="279.5" font-size="9.1" fill="#111" stroke="#111" stroke-width="0.22" textLength="88.8" lengthAdjust="spacingAndGlyphs" text-anchor="middle" transform="rotate(-90 343.9 279.5)">Relative Hazard Ratio</text>
<text x="370.3" y="347.6" font-size="9.2" fill="#111" stroke="#111" stroke-width="0.22" textLength="146.3" lengthAdjust="spacingAndGlyphs">Samples Ordered by Heteroplasmy</text>
<line x1="521.8" y1="344.3" x2="603.6" y2="344.3" stroke="#111" stroke-width="1.2"/>
<path d="M606.9 344.3L602 342.4L602 346.2Z" fill="#111"/>
<text x="501.6" y="246.9" font-size="9" fill="#111" stroke="#111" stroke-width="0.22" font-style="italic" textLength="89.1" lengthAdjust="spacingAndGlyphs">Coxph p-value = 0.91</text>
</svg></body></html>
